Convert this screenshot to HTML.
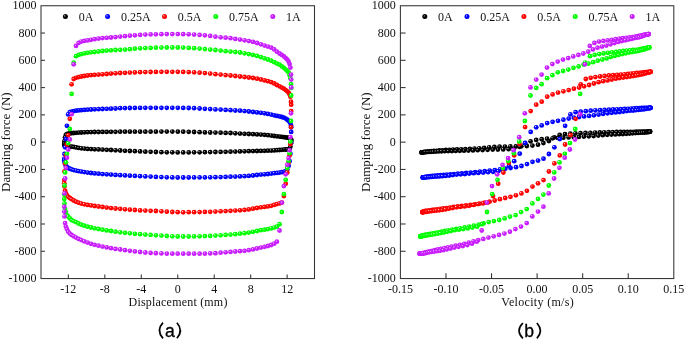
<!DOCTYPE html>
<html><head><meta charset="utf-8"><style>
html,body{margin:0;padding:0;background:#fff;}
body{width:685px;height:340px;overflow:hidden;}
svg{display:block;will-change:transform;}
.t{font-family:"Liberation Serif",serif;font-size:12px;fill:#111;}
.ty{font-family:"Liberation Serif",serif;font-size:13px;fill:#111;}
.lab{font-family:"Liberation Sans",sans-serif;font-size:17.6px;fill:#000;stroke:#000;stroke-width:0.3px;}
</style></head><body>
<svg width="685" height="340" viewBox="0 0 685 340">
<defs><radialGradient id="gk" cx="0.5" cy="0.5" r="0.5" fx="0.33" fy="0.32"><stop offset="0" stop-color="#d0d0d0"/><stop offset="0.4" stop-color="#000000"/><stop offset="1" stop-color="#000000"/></radialGradient><radialGradient id="gb" cx="0.5" cy="0.5" r="0.5" fx="0.33" fy="0.32"><stop offset="0" stop-color="#e0e0ff"/><stop offset="0.4" stop-color="#0000ff"/><stop offset="1" stop-color="#0000ff"/></radialGradient><radialGradient id="gr" cx="0.5" cy="0.5" r="0.5" fx="0.33" fy="0.32"><stop offset="0" stop-color="#ffe0e0"/><stop offset="0.4" stop-color="#ff0000"/><stop offset="1" stop-color="#ff0000"/></radialGradient><radialGradient id="gg" cx="0.5" cy="0.5" r="0.5" fx="0.33" fy="0.32"><stop offset="0" stop-color="#e8ffe8"/><stop offset="0.4" stop-color="#00ff00"/><stop offset="1" stop-color="#00ff00"/></radialGradient><radialGradient id="gm" cx="0.5" cy="0.5" r="0.5" fx="0.33" fy="0.32"><stop offset="0" stop-color="#f8e0ff"/><stop offset="0.4" stop-color="#c81eff"/><stop offset="1" stop-color="#c81eff"/></radialGradient></defs>
<rect width="685" height="340" fill="#fff"/>
<circle cx="177.8" cy="131.7" r="2.40" fill="url(#gk)"/><circle cx="172.3" cy="131.6" r="2.40" fill="url(#gk)"/><circle cx="166.8" cy="131.6" r="2.40" fill="url(#gk)"/><circle cx="161.4" cy="131.6" r="2.40" fill="url(#gk)"/><circle cx="155.9" cy="131.7" r="2.40" fill="url(#gk)"/><circle cx="150.6" cy="131.7" r="2.40" fill="url(#gk)"/><circle cx="145.3" cy="131.7" r="2.40" fill="url(#gk)"/><circle cx="140.1" cy="131.7" r="2.40" fill="url(#gk)"/><circle cx="134.9" cy="131.7" r="2.40" fill="url(#gk)"/><circle cx="129.9" cy="131.7" r="2.40" fill="url(#gk)"/><circle cx="125.0" cy="131.7" r="2.40" fill="url(#gk)"/><circle cx="120.2" cy="131.7" r="2.40" fill="url(#gk)"/><circle cx="115.5" cy="131.8" r="2.40" fill="url(#gk)"/><circle cx="111.0" cy="131.8" r="2.40" fill="url(#gk)"/><circle cx="106.7" cy="131.9" r="2.40" fill="url(#gk)"/><circle cx="102.5" cy="131.9" r="2.40" fill="url(#gk)"/><circle cx="98.5" cy="132.0" r="2.40" fill="url(#gk)"/><circle cx="94.6" cy="132.0" r="2.40" fill="url(#gk)"/><circle cx="91.0" cy="132.1" r="2.40" fill="url(#gk)"/><circle cx="87.6" cy="132.2" r="2.40" fill="url(#gk)"/><circle cx="84.3" cy="132.3" r="2.40" fill="url(#gk)"/><circle cx="81.3" cy="132.5" r="2.40" fill="url(#gk)"/><circle cx="78.6" cy="132.6" r="2.40" fill="url(#gk)"/><circle cx="76.0" cy="132.8" r="2.40" fill="url(#gk)"/><circle cx="73.7" cy="133.0" r="2.40" fill="url(#gk)"/><circle cx="71.6" cy="133.2" r="2.40" fill="url(#gk)"/><circle cx="69.8" cy="133.4" r="2.40" fill="url(#gk)"/><circle cx="68.2" cy="133.7" r="2.40" fill="url(#gk)"/><circle cx="66.9" cy="134.1" r="2.40" fill="url(#gk)"/><circle cx="65.9" cy="134.8" r="2.40" fill="url(#gk)"/><circle cx="65.1" cy="137.3" r="2.40" fill="url(#gk)"/><circle cx="64.5" cy="141.1" r="2.40" fill="url(#gk)"/><circle cx="64.3" cy="143.0" r="2.40" fill="url(#gk)"/><circle cx="64.3" cy="144.7" r="2.40" fill="url(#gk)"/><circle cx="64.5" cy="145.6" r="2.40" fill="url(#gk)"/><circle cx="65.1" cy="146.0" r="2.40" fill="url(#gk)"/><circle cx="65.9" cy="146.3" r="2.40" fill="url(#gk)"/><circle cx="66.9" cy="146.4" r="2.40" fill="url(#gk)"/><circle cx="68.2" cy="146.5" r="2.40" fill="url(#gk)"/><circle cx="69.8" cy="146.6" r="2.40" fill="url(#gk)"/><circle cx="71.6" cy="146.6" r="2.40" fill="url(#gk)"/><circle cx="73.7" cy="146.9" r="2.40" fill="url(#gk)"/><circle cx="76.0" cy="147.4" r="2.40" fill="url(#gk)"/><circle cx="78.6" cy="147.9" r="2.40" fill="url(#gk)"/><circle cx="81.3" cy="148.3" r="2.40" fill="url(#gk)"/><circle cx="84.3" cy="148.6" r="2.40" fill="url(#gk)"/><circle cx="87.6" cy="148.9" r="2.40" fill="url(#gk)"/><circle cx="91.0" cy="149.1" r="2.40" fill="url(#gk)"/><circle cx="94.6" cy="149.3" r="2.40" fill="url(#gk)"/><circle cx="98.5" cy="149.4" r="2.40" fill="url(#gk)"/><circle cx="102.5" cy="149.6" r="2.40" fill="url(#gk)"/><circle cx="106.7" cy="149.8" r="2.40" fill="url(#gk)"/><circle cx="111.0" cy="150.0" r="2.40" fill="url(#gk)"/><circle cx="115.5" cy="150.3" r="2.40" fill="url(#gk)"/><circle cx="120.2" cy="150.5" r="2.40" fill="url(#gk)"/><circle cx="125.0" cy="150.8" r="2.40" fill="url(#gk)"/><circle cx="129.9" cy="151.0" r="2.40" fill="url(#gk)"/><circle cx="134.9" cy="151.2" r="2.40" fill="url(#gk)"/><circle cx="140.1" cy="151.4" r="2.40" fill="url(#gk)"/><circle cx="145.3" cy="151.7" r="2.40" fill="url(#gk)"/><circle cx="150.6" cy="151.8" r="2.40" fill="url(#gk)"/><circle cx="155.9" cy="152.0" r="2.40" fill="url(#gk)"/><circle cx="161.4" cy="152.2" r="2.40" fill="url(#gk)"/><circle cx="166.8" cy="152.3" r="2.40" fill="url(#gk)"/><circle cx="172.3" cy="152.3" r="2.40" fill="url(#gk)"/><circle cx="177.7" cy="152.4" r="2.40" fill="url(#gk)"/><circle cx="183.2" cy="152.4" r="2.40" fill="url(#gk)"/><circle cx="188.7" cy="152.4" r="2.40" fill="url(#gk)"/><circle cx="194.1" cy="152.3" r="2.40" fill="url(#gk)"/><circle cx="199.6" cy="152.3" r="2.40" fill="url(#gk)"/><circle cx="204.9" cy="152.2" r="2.40" fill="url(#gk)"/><circle cx="210.2" cy="152.1" r="2.40" fill="url(#gk)"/><circle cx="215.4" cy="152.0" r="2.40" fill="url(#gk)"/><circle cx="220.6" cy="151.9" r="2.40" fill="url(#gk)"/><circle cx="225.6" cy="151.8" r="2.40" fill="url(#gk)"/><circle cx="230.5" cy="151.7" r="2.40" fill="url(#gk)"/><circle cx="235.3" cy="151.6" r="2.40" fill="url(#gk)"/><circle cx="240.0" cy="151.4" r="2.40" fill="url(#gk)"/><circle cx="244.5" cy="151.3" r="2.40" fill="url(#gk)"/><circle cx="248.8" cy="151.2" r="2.40" fill="url(#gk)"/><circle cx="253.0" cy="151.1" r="2.40" fill="url(#gk)"/><circle cx="257.0" cy="151.0" r="2.40" fill="url(#gk)"/><circle cx="260.9" cy="150.9" r="2.40" fill="url(#gk)"/><circle cx="264.5" cy="150.8" r="2.40" fill="url(#gk)"/><circle cx="267.9" cy="150.7" r="2.40" fill="url(#gk)"/><circle cx="271.2" cy="150.6" r="2.40" fill="url(#gk)"/><circle cx="274.2" cy="150.4" r="2.40" fill="url(#gk)"/><circle cx="276.9" cy="150.2" r="2.40" fill="url(#gk)"/><circle cx="279.5" cy="150.0" r="2.40" fill="url(#gk)"/><circle cx="281.8" cy="149.8" r="2.40" fill="url(#gk)"/><circle cx="283.9" cy="149.6" r="2.40" fill="url(#gk)"/><circle cx="285.7" cy="149.5" r="2.40" fill="url(#gk)"/><circle cx="287.3" cy="149.4" r="2.40" fill="url(#gk)"/><circle cx="288.6" cy="149.2" r="2.40" fill="url(#gk)"/><circle cx="289.6" cy="148.8" r="2.40" fill="url(#gk)"/><circle cx="290.4" cy="146.8" r="2.40" fill="url(#gk)"/><circle cx="291.0" cy="143.2" r="2.40" fill="url(#gk)"/><circle cx="291.2" cy="141.3" r="2.40" fill="url(#gk)"/><circle cx="291.2" cy="139.9" r="2.40" fill="url(#gk)"/><circle cx="291.0" cy="139.2" r="2.40" fill="url(#gk)"/><circle cx="290.4" cy="138.7" r="2.40" fill="url(#gk)"/><circle cx="289.6" cy="138.3" r="2.40" fill="url(#gk)"/><circle cx="288.6" cy="137.9" r="2.40" fill="url(#gk)"/><circle cx="287.3" cy="137.7" r="2.40" fill="url(#gk)"/><circle cx="285.7" cy="137.4" r="2.40" fill="url(#gk)"/><circle cx="283.9" cy="137.2" r="2.40" fill="url(#gk)"/><circle cx="281.8" cy="136.9" r="2.40" fill="url(#gk)"/><circle cx="279.5" cy="136.6" r="2.40" fill="url(#gk)"/><circle cx="276.9" cy="136.3" r="2.40" fill="url(#gk)"/><circle cx="274.2" cy="136.0" r="2.40" fill="url(#gk)"/><circle cx="271.2" cy="135.6" r="2.40" fill="url(#gk)"/><circle cx="267.9" cy="135.2" r="2.40" fill="url(#gk)"/><circle cx="264.5" cy="134.8" r="2.40" fill="url(#gk)"/><circle cx="260.9" cy="134.6" r="2.40" fill="url(#gk)"/><circle cx="257.0" cy="134.4" r="2.40" fill="url(#gk)"/><circle cx="253.0" cy="134.2" r="2.40" fill="url(#gk)"/><circle cx="248.8" cy="134.0" r="2.40" fill="url(#gk)"/><circle cx="244.5" cy="133.8" r="2.40" fill="url(#gk)"/><circle cx="240.0" cy="133.6" r="2.40" fill="url(#gk)"/><circle cx="235.3" cy="133.3" r="2.40" fill="url(#gk)"/><circle cx="230.5" cy="133.0" r="2.40" fill="url(#gk)"/><circle cx="225.6" cy="132.9" r="2.40" fill="url(#gk)"/><circle cx="220.6" cy="132.7" r="2.40" fill="url(#gk)"/><circle cx="215.4" cy="132.6" r="2.40" fill="url(#gk)"/><circle cx="210.2" cy="132.5" r="2.40" fill="url(#gk)"/><circle cx="204.9" cy="132.4" r="2.40" fill="url(#gk)"/><circle cx="199.6" cy="132.2" r="2.40" fill="url(#gk)"/><circle cx="194.1" cy="132.0" r="2.40" fill="url(#gk)"/><circle cx="188.7" cy="131.8" r="2.40" fill="url(#gk)"/><circle cx="183.2" cy="131.7" r="2.40" fill="url(#gk)"/>
<circle cx="177.8" cy="107.8" r="2.40" fill="url(#gb)"/><circle cx="172.3" cy="107.8" r="2.40" fill="url(#gb)"/><circle cx="166.8" cy="107.8" r="2.40" fill="url(#gb)"/><circle cx="161.4" cy="107.8" r="2.40" fill="url(#gb)"/><circle cx="155.9" cy="107.8" r="2.40" fill="url(#gb)"/><circle cx="150.6" cy="107.8" r="2.40" fill="url(#gb)"/><circle cx="145.3" cy="107.8" r="2.40" fill="url(#gb)"/><circle cx="140.1" cy="107.9" r="2.40" fill="url(#gb)"/><circle cx="134.9" cy="107.9" r="2.40" fill="url(#gb)"/><circle cx="129.9" cy="108.0" r="2.40" fill="url(#gb)"/><circle cx="125.0" cy="108.1" r="2.40" fill="url(#gb)"/><circle cx="120.2" cy="108.2" r="2.40" fill="url(#gb)"/><circle cx="115.5" cy="108.5" r="2.40" fill="url(#gb)"/><circle cx="111.0" cy="108.7" r="2.40" fill="url(#gb)"/><circle cx="106.7" cy="108.8" r="2.40" fill="url(#gb)"/><circle cx="102.5" cy="109.0" r="2.40" fill="url(#gb)"/><circle cx="98.5" cy="109.2" r="2.40" fill="url(#gb)"/><circle cx="94.6" cy="109.3" r="2.40" fill="url(#gb)"/><circle cx="91.0" cy="109.5" r="2.40" fill="url(#gb)"/><circle cx="87.6" cy="109.7" r="2.40" fill="url(#gb)"/><circle cx="84.3" cy="109.9" r="2.40" fill="url(#gb)"/><circle cx="81.3" cy="110.2" r="2.40" fill="url(#gb)"/><circle cx="78.6" cy="110.4" r="2.40" fill="url(#gb)"/><circle cx="76.0" cy="110.7" r="2.40" fill="url(#gb)"/><circle cx="73.7" cy="111.2" r="2.40" fill="url(#gb)"/><circle cx="71.6" cy="111.7" r="2.40" fill="url(#gb)"/><circle cx="69.8" cy="112.2" r="2.40" fill="url(#gb)"/><circle cx="68.2" cy="114.4" r="2.40" fill="url(#gb)"/><circle cx="66.9" cy="125.8" r="2.40" fill="url(#gb)"/><circle cx="65.9" cy="139.0" r="2.40" fill="url(#gb)"/><circle cx="65.1" cy="147.3" r="2.40" fill="url(#gb)"/><circle cx="64.5" cy="154.0" r="2.40" fill="url(#gb)"/><circle cx="64.3" cy="158.7" r="2.40" fill="url(#gb)"/><circle cx="64.3" cy="160.6" r="2.40" fill="url(#gb)"/><circle cx="64.5" cy="161.8" r="2.40" fill="url(#gb)"/><circle cx="65.1" cy="164.1" r="2.40" fill="url(#gb)"/><circle cx="65.9" cy="166.0" r="2.40" fill="url(#gb)"/><circle cx="66.9" cy="167.2" r="2.40" fill="url(#gb)"/><circle cx="68.2" cy="168.0" r="2.40" fill="url(#gb)"/><circle cx="69.8" cy="168.7" r="2.40" fill="url(#gb)"/><circle cx="71.6" cy="169.4" r="2.40" fill="url(#gb)"/><circle cx="73.7" cy="170.1" r="2.40" fill="url(#gb)"/><circle cx="76.0" cy="170.6" r="2.40" fill="url(#gb)"/><circle cx="78.6" cy="171.2" r="2.40" fill="url(#gb)"/><circle cx="81.3" cy="171.6" r="2.40" fill="url(#gb)"/><circle cx="84.3" cy="172.1" r="2.40" fill="url(#gb)"/><circle cx="87.6" cy="172.6" r="2.40" fill="url(#gb)"/><circle cx="91.0" cy="173.0" r="2.40" fill="url(#gb)"/><circle cx="94.6" cy="173.4" r="2.40" fill="url(#gb)"/><circle cx="98.5" cy="173.7" r="2.40" fill="url(#gb)"/><circle cx="102.5" cy="174.1" r="2.40" fill="url(#gb)"/><circle cx="106.7" cy="174.3" r="2.40" fill="url(#gb)"/><circle cx="111.0" cy="174.6" r="2.40" fill="url(#gb)"/><circle cx="115.5" cy="174.9" r="2.40" fill="url(#gb)"/><circle cx="120.2" cy="175.2" r="2.40" fill="url(#gb)"/><circle cx="125.0" cy="175.4" r="2.40" fill="url(#gb)"/><circle cx="129.9" cy="175.7" r="2.40" fill="url(#gb)"/><circle cx="134.9" cy="175.9" r="2.40" fill="url(#gb)"/><circle cx="140.1" cy="176.2" r="2.40" fill="url(#gb)"/><circle cx="145.3" cy="176.4" r="2.40" fill="url(#gb)"/><circle cx="150.6" cy="176.6" r="2.40" fill="url(#gb)"/><circle cx="155.9" cy="176.9" r="2.40" fill="url(#gb)"/><circle cx="161.4" cy="177.1" r="2.40" fill="url(#gb)"/><circle cx="166.8" cy="177.3" r="2.40" fill="url(#gb)"/><circle cx="172.3" cy="177.4" r="2.40" fill="url(#gb)"/><circle cx="177.7" cy="177.5" r="2.40" fill="url(#gb)"/><circle cx="183.2" cy="177.5" r="2.40" fill="url(#gb)"/><circle cx="188.7" cy="177.5" r="2.40" fill="url(#gb)"/><circle cx="194.1" cy="177.4" r="2.40" fill="url(#gb)"/><circle cx="199.6" cy="177.4" r="2.40" fill="url(#gb)"/><circle cx="204.9" cy="177.4" r="2.40" fill="url(#gb)"/><circle cx="210.2" cy="177.3" r="2.40" fill="url(#gb)"/><circle cx="215.4" cy="177.2" r="2.40" fill="url(#gb)"/><circle cx="220.6" cy="177.1" r="2.40" fill="url(#gb)"/><circle cx="225.6" cy="176.9" r="2.40" fill="url(#gb)"/><circle cx="230.5" cy="176.7" r="2.40" fill="url(#gb)"/><circle cx="235.3" cy="176.6" r="2.40" fill="url(#gb)"/><circle cx="240.0" cy="176.4" r="2.40" fill="url(#gb)"/><circle cx="244.5" cy="176.2" r="2.40" fill="url(#gb)"/><circle cx="248.8" cy="175.9" r="2.40" fill="url(#gb)"/><circle cx="253.0" cy="175.5" r="2.40" fill="url(#gb)"/><circle cx="257.0" cy="175.0" r="2.40" fill="url(#gb)"/><circle cx="260.9" cy="174.6" r="2.40" fill="url(#gb)"/><circle cx="264.5" cy="174.3" r="2.40" fill="url(#gb)"/><circle cx="267.9" cy="174.0" r="2.40" fill="url(#gb)"/><circle cx="271.2" cy="173.6" r="2.40" fill="url(#gb)"/><circle cx="274.2" cy="173.2" r="2.40" fill="url(#gb)"/><circle cx="276.9" cy="172.9" r="2.40" fill="url(#gb)"/><circle cx="279.5" cy="172.6" r="2.40" fill="url(#gb)"/><circle cx="281.8" cy="172.2" r="2.40" fill="url(#gb)"/><circle cx="283.9" cy="171.8" r="2.40" fill="url(#gb)"/><circle cx="285.7" cy="171.2" r="2.40" fill="url(#gb)"/><circle cx="287.3" cy="169.3" r="2.40" fill="url(#gb)"/><circle cx="288.6" cy="165.9" r="2.40" fill="url(#gb)"/><circle cx="289.6" cy="161.2" r="2.40" fill="url(#gb)"/><circle cx="290.4" cy="153.7" r="2.40" fill="url(#gb)"/><circle cx="291.0" cy="142.9" r="2.40" fill="url(#gb)"/><circle cx="291.2" cy="131.9" r="2.40" fill="url(#gb)"/><circle cx="291.2" cy="127.3" r="2.40" fill="url(#gb)"/><circle cx="291.0" cy="125.4" r="2.40" fill="url(#gb)"/><circle cx="290.4" cy="123.1" r="2.40" fill="url(#gb)"/><circle cx="289.6" cy="121.8" r="2.40" fill="url(#gb)"/><circle cx="288.6" cy="120.8" r="2.40" fill="url(#gb)"/><circle cx="287.3" cy="119.7" r="2.40" fill="url(#gb)"/><circle cx="285.7" cy="118.6" r="2.40" fill="url(#gb)"/><circle cx="283.9" cy="117.7" r="2.40" fill="url(#gb)"/><circle cx="281.8" cy="117.0" r="2.40" fill="url(#gb)"/><circle cx="279.5" cy="116.4" r="2.40" fill="url(#gb)"/><circle cx="276.9" cy="115.9" r="2.40" fill="url(#gb)"/><circle cx="274.2" cy="115.3" r="2.40" fill="url(#gb)"/><circle cx="271.2" cy="114.6" r="2.40" fill="url(#gb)"/><circle cx="267.9" cy="113.9" r="2.40" fill="url(#gb)"/><circle cx="264.5" cy="113.3" r="2.40" fill="url(#gb)"/><circle cx="260.9" cy="112.8" r="2.40" fill="url(#gb)"/><circle cx="257.0" cy="112.4" r="2.40" fill="url(#gb)"/><circle cx="253.0" cy="112.0" r="2.40" fill="url(#gb)"/><circle cx="248.8" cy="111.5" r="2.40" fill="url(#gb)"/><circle cx="244.5" cy="111.1" r="2.40" fill="url(#gb)"/><circle cx="240.0" cy="110.7" r="2.40" fill="url(#gb)"/><circle cx="235.3" cy="110.5" r="2.40" fill="url(#gb)"/><circle cx="230.5" cy="110.2" r="2.40" fill="url(#gb)"/><circle cx="225.6" cy="109.9" r="2.40" fill="url(#gb)"/><circle cx="220.6" cy="109.6" r="2.40" fill="url(#gb)"/><circle cx="215.4" cy="109.4" r="2.40" fill="url(#gb)"/><circle cx="210.2" cy="109.1" r="2.40" fill="url(#gb)"/><circle cx="204.9" cy="108.8" r="2.40" fill="url(#gb)"/><circle cx="199.6" cy="108.5" r="2.40" fill="url(#gb)"/><circle cx="194.1" cy="108.2" r="2.40" fill="url(#gb)"/><circle cx="188.7" cy="108.0" r="2.40" fill="url(#gb)"/><circle cx="183.2" cy="107.9" r="2.40" fill="url(#gb)"/>
<circle cx="177.8" cy="71.8" r="2.40" fill="url(#gr)"/><circle cx="172.3" cy="71.8" r="2.40" fill="url(#gr)"/><circle cx="166.8" cy="71.8" r="2.40" fill="url(#gr)"/><circle cx="161.4" cy="71.8" r="2.40" fill="url(#gr)"/><circle cx="155.9" cy="71.9" r="2.40" fill="url(#gr)"/><circle cx="150.6" cy="72.0" r="2.40" fill="url(#gr)"/><circle cx="145.3" cy="72.1" r="2.40" fill="url(#gr)"/><circle cx="140.1" cy="72.2" r="2.40" fill="url(#gr)"/><circle cx="134.9" cy="72.4" r="2.40" fill="url(#gr)"/><circle cx="129.9" cy="72.6" r="2.40" fill="url(#gr)"/><circle cx="125.0" cy="72.8" r="2.40" fill="url(#gr)"/><circle cx="120.2" cy="73.0" r="2.40" fill="url(#gr)"/><circle cx="115.5" cy="73.3" r="2.40" fill="url(#gr)"/><circle cx="111.0" cy="73.6" r="2.40" fill="url(#gr)"/><circle cx="106.7" cy="74.0" r="2.40" fill="url(#gr)"/><circle cx="102.5" cy="74.3" r="2.40" fill="url(#gr)"/><circle cx="98.5" cy="74.6" r="2.40" fill="url(#gr)"/><circle cx="94.6" cy="74.8" r="2.40" fill="url(#gr)"/><circle cx="91.0" cy="75.1" r="2.40" fill="url(#gr)"/><circle cx="87.6" cy="75.5" r="2.40" fill="url(#gr)"/><circle cx="84.3" cy="76.0" r="2.40" fill="url(#gr)"/><circle cx="81.3" cy="76.5" r="2.40" fill="url(#gr)"/><circle cx="78.6" cy="77.1" r="2.40" fill="url(#gr)"/><circle cx="76.0" cy="77.8" r="2.40" fill="url(#gr)"/><circle cx="73.7" cy="79.0" r="2.40" fill="url(#gr)"/><circle cx="71.6" cy="84.3" r="2.40" fill="url(#gr)"/><circle cx="69.8" cy="118.8" r="2.40" fill="url(#gr)"/><circle cx="68.2" cy="135.1" r="2.40" fill="url(#gr)"/><circle cx="66.9" cy="144.5" r="2.40" fill="url(#gr)"/><circle cx="65.9" cy="155.4" r="2.40" fill="url(#gr)"/><circle cx="65.1" cy="163.4" r="2.40" fill="url(#gr)"/><circle cx="64.5" cy="171.5" r="2.40" fill="url(#gr)"/><circle cx="64.3" cy="180.1" r="2.40" fill="url(#gr)"/><circle cx="64.3" cy="183.3" r="2.40" fill="url(#gr)"/><circle cx="64.5" cy="186.6" r="2.40" fill="url(#gr)"/><circle cx="65.1" cy="190.8" r="2.40" fill="url(#gr)"/><circle cx="65.9" cy="193.4" r="2.40" fill="url(#gr)"/><circle cx="66.9" cy="195.3" r="2.40" fill="url(#gr)"/><circle cx="68.2" cy="196.8" r="2.40" fill="url(#gr)"/><circle cx="69.8" cy="198.0" r="2.40" fill="url(#gr)"/><circle cx="71.6" cy="199.2" r="2.40" fill="url(#gr)"/><circle cx="73.7" cy="200.5" r="2.40" fill="url(#gr)"/><circle cx="76.0" cy="201.7" r="2.40" fill="url(#gr)"/><circle cx="78.6" cy="202.7" r="2.40" fill="url(#gr)"/><circle cx="81.3" cy="203.6" r="2.40" fill="url(#gr)"/><circle cx="84.3" cy="204.3" r="2.40" fill="url(#gr)"/><circle cx="87.6" cy="204.9" r="2.40" fill="url(#gr)"/><circle cx="91.0" cy="205.4" r="2.40" fill="url(#gr)"/><circle cx="94.6" cy="206.0" r="2.40" fill="url(#gr)"/><circle cx="98.5" cy="206.5" r="2.40" fill="url(#gr)"/><circle cx="102.5" cy="207.0" r="2.40" fill="url(#gr)"/><circle cx="106.7" cy="207.6" r="2.40" fill="url(#gr)"/><circle cx="111.0" cy="208.1" r="2.40" fill="url(#gr)"/><circle cx="115.5" cy="208.5" r="2.40" fill="url(#gr)"/><circle cx="120.2" cy="208.8" r="2.40" fill="url(#gr)"/><circle cx="125.0" cy="209.3" r="2.40" fill="url(#gr)"/><circle cx="129.9" cy="209.7" r="2.40" fill="url(#gr)"/><circle cx="134.9" cy="210.0" r="2.40" fill="url(#gr)"/><circle cx="140.1" cy="210.4" r="2.40" fill="url(#gr)"/><circle cx="145.3" cy="210.6" r="2.40" fill="url(#gr)"/><circle cx="150.6" cy="210.8" r="2.40" fill="url(#gr)"/><circle cx="155.9" cy="211.0" r="2.40" fill="url(#gr)"/><circle cx="161.4" cy="211.3" r="2.40" fill="url(#gr)"/><circle cx="166.8" cy="211.7" r="2.40" fill="url(#gr)"/><circle cx="172.3" cy="212.0" r="2.40" fill="url(#gr)"/><circle cx="177.7" cy="212.2" r="2.40" fill="url(#gr)"/><circle cx="183.2" cy="212.3" r="2.40" fill="url(#gr)"/><circle cx="188.7" cy="212.2" r="2.40" fill="url(#gr)"/><circle cx="194.1" cy="212.2" r="2.40" fill="url(#gr)"/><circle cx="199.6" cy="212.1" r="2.40" fill="url(#gr)"/><circle cx="204.9" cy="211.9" r="2.40" fill="url(#gr)"/><circle cx="210.2" cy="211.8" r="2.40" fill="url(#gr)"/><circle cx="215.4" cy="211.6" r="2.40" fill="url(#gr)"/><circle cx="220.6" cy="211.3" r="2.40" fill="url(#gr)"/><circle cx="225.6" cy="211.1" r="2.40" fill="url(#gr)"/><circle cx="230.5" cy="210.8" r="2.40" fill="url(#gr)"/><circle cx="235.3" cy="210.6" r="2.40" fill="url(#gr)"/><circle cx="240.0" cy="210.3" r="2.40" fill="url(#gr)"/><circle cx="244.5" cy="209.9" r="2.40" fill="url(#gr)"/><circle cx="248.8" cy="209.4" r="2.40" fill="url(#gr)"/><circle cx="253.0" cy="208.7" r="2.40" fill="url(#gr)"/><circle cx="257.0" cy="208.0" r="2.40" fill="url(#gr)"/><circle cx="260.9" cy="207.3" r="2.40" fill="url(#gr)"/><circle cx="264.5" cy="206.9" r="2.40" fill="url(#gr)"/><circle cx="267.9" cy="206.4" r="2.40" fill="url(#gr)"/><circle cx="271.2" cy="205.8" r="2.40" fill="url(#gr)"/><circle cx="274.2" cy="204.9" r="2.40" fill="url(#gr)"/><circle cx="276.9" cy="204.1" r="2.40" fill="url(#gr)"/><circle cx="279.5" cy="203.4" r="2.40" fill="url(#gr)"/><circle cx="281.8" cy="202.6" r="2.40" fill="url(#gr)"/><circle cx="283.9" cy="196.1" r="2.40" fill="url(#gr)"/><circle cx="285.7" cy="183.7" r="2.40" fill="url(#gr)"/><circle cx="287.3" cy="172.5" r="2.40" fill="url(#gr)"/><circle cx="288.6" cy="162.8" r="2.40" fill="url(#gr)"/><circle cx="289.6" cy="155.4" r="2.40" fill="url(#gr)"/><circle cx="290.4" cy="144.1" r="2.40" fill="url(#gr)"/><circle cx="291.0" cy="127.1" r="2.40" fill="url(#gr)"/><circle cx="291.2" cy="111.1" r="2.40" fill="url(#gr)"/><circle cx="291.2" cy="104.7" r="2.40" fill="url(#gr)"/><circle cx="291.0" cy="101.7" r="2.40" fill="url(#gr)"/><circle cx="290.4" cy="96.7" r="2.40" fill="url(#gr)"/><circle cx="289.6" cy="94.4" r="2.40" fill="url(#gr)"/><circle cx="288.6" cy="92.6" r="2.40" fill="url(#gr)"/><circle cx="287.3" cy="91.3" r="2.40" fill="url(#gr)"/><circle cx="285.7" cy="90.1" r="2.40" fill="url(#gr)"/><circle cx="283.9" cy="88.7" r="2.40" fill="url(#gr)"/><circle cx="281.8" cy="87.6" r="2.40" fill="url(#gr)"/><circle cx="279.5" cy="86.3" r="2.40" fill="url(#gr)"/><circle cx="276.9" cy="85.0" r="2.40" fill="url(#gr)"/><circle cx="274.2" cy="83.5" r="2.40" fill="url(#gr)"/><circle cx="271.2" cy="82.2" r="2.40" fill="url(#gr)"/><circle cx="267.9" cy="81.2" r="2.40" fill="url(#gr)"/><circle cx="264.5" cy="80.4" r="2.40" fill="url(#gr)"/><circle cx="260.9" cy="79.5" r="2.40" fill="url(#gr)"/><circle cx="257.0" cy="78.7" r="2.40" fill="url(#gr)"/><circle cx="253.0" cy="78.0" r="2.40" fill="url(#gr)"/><circle cx="248.8" cy="77.5" r="2.40" fill="url(#gr)"/><circle cx="244.5" cy="77.0" r="2.40" fill="url(#gr)"/><circle cx="240.0" cy="76.5" r="2.40" fill="url(#gr)"/><circle cx="235.3" cy="76.0" r="2.40" fill="url(#gr)"/><circle cx="230.5" cy="75.5" r="2.40" fill="url(#gr)"/><circle cx="225.6" cy="75.1" r="2.40" fill="url(#gr)"/><circle cx="220.6" cy="74.6" r="2.40" fill="url(#gr)"/><circle cx="215.4" cy="74.2" r="2.40" fill="url(#gr)"/><circle cx="210.2" cy="73.6" r="2.40" fill="url(#gr)"/><circle cx="204.9" cy="73.1" r="2.40" fill="url(#gr)"/><circle cx="199.6" cy="72.7" r="2.40" fill="url(#gr)"/><circle cx="194.1" cy="72.3" r="2.40" fill="url(#gr)"/><circle cx="188.7" cy="72.1" r="2.40" fill="url(#gr)"/><circle cx="183.2" cy="71.9" r="2.40" fill="url(#gr)"/>
<circle cx="177.8" cy="47.5" r="2.40" fill="url(#gg)"/><circle cx="172.3" cy="47.5" r="2.40" fill="url(#gg)"/><circle cx="166.8" cy="47.5" r="2.40" fill="url(#gg)"/><circle cx="161.4" cy="47.6" r="2.40" fill="url(#gg)"/><circle cx="155.9" cy="47.7" r="2.40" fill="url(#gg)"/><circle cx="150.6" cy="47.9" r="2.40" fill="url(#gg)"/><circle cx="145.3" cy="48.1" r="2.40" fill="url(#gg)"/><circle cx="140.1" cy="48.3" r="2.40" fill="url(#gg)"/><circle cx="134.9" cy="48.7" r="2.40" fill="url(#gg)"/><circle cx="129.9" cy="49.2" r="2.40" fill="url(#gg)"/><circle cx="125.0" cy="49.6" r="2.40" fill="url(#gg)"/><circle cx="120.2" cy="49.8" r="2.40" fill="url(#gg)"/><circle cx="115.5" cy="50.0" r="2.40" fill="url(#gg)"/><circle cx="111.0" cy="50.3" r="2.40" fill="url(#gg)"/><circle cx="106.7" cy="50.6" r="2.40" fill="url(#gg)"/><circle cx="102.5" cy="51.0" r="2.40" fill="url(#gg)"/><circle cx="98.5" cy="51.5" r="2.40" fill="url(#gg)"/><circle cx="94.6" cy="52.0" r="2.40" fill="url(#gg)"/><circle cx="91.0" cy="52.3" r="2.40" fill="url(#gg)"/><circle cx="87.6" cy="52.8" r="2.40" fill="url(#gg)"/><circle cx="84.3" cy="53.4" r="2.40" fill="url(#gg)"/><circle cx="81.3" cy="54.1" r="2.40" fill="url(#gg)"/><circle cx="78.6" cy="54.9" r="2.40" fill="url(#gg)"/><circle cx="76.0" cy="56.2" r="2.40" fill="url(#gg)"/><circle cx="73.7" cy="62.6" r="2.40" fill="url(#gg)"/><circle cx="71.6" cy="93.9" r="2.40" fill="url(#gg)"/><circle cx="69.8" cy="129.0" r="2.40" fill="url(#gg)"/><circle cx="68.2" cy="143.1" r="2.40" fill="url(#gg)"/><circle cx="66.9" cy="153.8" r="2.40" fill="url(#gg)"/><circle cx="65.9" cy="162.3" r="2.40" fill="url(#gg)"/><circle cx="65.1" cy="172.4" r="2.40" fill="url(#gg)"/><circle cx="64.5" cy="185.5" r="2.40" fill="url(#gg)"/><circle cx="64.3" cy="194.6" r="2.40" fill="url(#gg)"/><circle cx="64.3" cy="198.9" r="2.40" fill="url(#gg)"/><circle cx="64.5" cy="203.4" r="2.40" fill="url(#gg)"/><circle cx="65.1" cy="209.1" r="2.40" fill="url(#gg)"/><circle cx="65.9" cy="212.1" r="2.40" fill="url(#gg)"/><circle cx="66.9" cy="215.1" r="2.40" fill="url(#gg)"/><circle cx="68.2" cy="216.6" r="2.40" fill="url(#gg)"/><circle cx="69.8" cy="218.4" r="2.40" fill="url(#gg)"/><circle cx="71.6" cy="220.0" r="2.40" fill="url(#gg)"/><circle cx="73.7" cy="221.1" r="2.40" fill="url(#gg)"/><circle cx="76.0" cy="222.1" r="2.40" fill="url(#gg)"/><circle cx="78.6" cy="223.5" r="2.40" fill="url(#gg)"/><circle cx="81.3" cy="224.7" r="2.40" fill="url(#gg)"/><circle cx="84.3" cy="225.7" r="2.40" fill="url(#gg)"/><circle cx="87.6" cy="226.7" r="2.40" fill="url(#gg)"/><circle cx="91.0" cy="227.5" r="2.40" fill="url(#gg)"/><circle cx="94.6" cy="228.3" r="2.40" fill="url(#gg)"/><circle cx="98.5" cy="229.0" r="2.40" fill="url(#gg)"/><circle cx="102.5" cy="229.7" r="2.40" fill="url(#gg)"/><circle cx="106.7" cy="230.4" r="2.40" fill="url(#gg)"/><circle cx="111.0" cy="231.0" r="2.40" fill="url(#gg)"/><circle cx="115.5" cy="231.7" r="2.40" fill="url(#gg)"/><circle cx="120.2" cy="232.3" r="2.40" fill="url(#gg)"/><circle cx="125.0" cy="232.8" r="2.40" fill="url(#gg)"/><circle cx="129.9" cy="233.3" r="2.40" fill="url(#gg)"/><circle cx="134.9" cy="233.8" r="2.40" fill="url(#gg)"/><circle cx="140.1" cy="234.2" r="2.40" fill="url(#gg)"/><circle cx="145.3" cy="234.6" r="2.40" fill="url(#gg)"/><circle cx="150.6" cy="234.9" r="2.40" fill="url(#gg)"/><circle cx="155.9" cy="235.3" r="2.40" fill="url(#gg)"/><circle cx="161.4" cy="235.6" r="2.40" fill="url(#gg)"/><circle cx="166.8" cy="236.0" r="2.40" fill="url(#gg)"/><circle cx="172.3" cy="236.3" r="2.40" fill="url(#gg)"/><circle cx="177.7" cy="236.5" r="2.40" fill="url(#gg)"/><circle cx="183.2" cy="236.5" r="2.40" fill="url(#gg)"/><circle cx="188.7" cy="236.5" r="2.40" fill="url(#gg)"/><circle cx="194.1" cy="236.4" r="2.40" fill="url(#gg)"/><circle cx="199.6" cy="236.3" r="2.40" fill="url(#gg)"/><circle cx="204.9" cy="236.1" r="2.40" fill="url(#gg)"/><circle cx="210.2" cy="235.9" r="2.40" fill="url(#gg)"/><circle cx="215.4" cy="235.6" r="2.40" fill="url(#gg)"/><circle cx="220.6" cy="235.3" r="2.40" fill="url(#gg)"/><circle cx="225.6" cy="234.9" r="2.40" fill="url(#gg)"/><circle cx="230.5" cy="234.6" r="2.40" fill="url(#gg)"/><circle cx="235.3" cy="234.2" r="2.40" fill="url(#gg)"/><circle cx="240.0" cy="233.7" r="2.40" fill="url(#gg)"/><circle cx="244.5" cy="233.2" r="2.40" fill="url(#gg)"/><circle cx="248.8" cy="232.6" r="2.40" fill="url(#gg)"/><circle cx="253.0" cy="231.8" r="2.40" fill="url(#gg)"/><circle cx="257.0" cy="231.0" r="2.40" fill="url(#gg)"/><circle cx="260.9" cy="230.2" r="2.40" fill="url(#gg)"/><circle cx="264.5" cy="229.7" r="2.40" fill="url(#gg)"/><circle cx="267.9" cy="229.1" r="2.40" fill="url(#gg)"/><circle cx="271.2" cy="228.4" r="2.40" fill="url(#gg)"/><circle cx="274.2" cy="227.6" r="2.40" fill="url(#gg)"/><circle cx="276.9" cy="226.7" r="2.40" fill="url(#gg)"/><circle cx="279.5" cy="224.2" r="2.40" fill="url(#gg)"/><circle cx="281.8" cy="212.0" r="2.40" fill="url(#gg)"/><circle cx="283.9" cy="194.1" r="2.40" fill="url(#gg)"/><circle cx="285.7" cy="179.8" r="2.40" fill="url(#gg)"/><circle cx="287.3" cy="168.0" r="2.40" fill="url(#gg)"/><circle cx="288.6" cy="160.9" r="2.40" fill="url(#gg)"/><circle cx="289.6" cy="153.2" r="2.40" fill="url(#gg)"/><circle cx="290.4" cy="141.4" r="2.40" fill="url(#gg)"/><circle cx="291.0" cy="121.0" r="2.40" fill="url(#gg)"/><circle cx="291.2" cy="95.5" r="2.40" fill="url(#gg)"/><circle cx="291.2" cy="87.9" r="2.40" fill="url(#gg)"/><circle cx="291.0" cy="84.2" r="2.40" fill="url(#gg)"/><circle cx="290.4" cy="78.2" r="2.40" fill="url(#gg)"/><circle cx="289.6" cy="75.2" r="2.40" fill="url(#gg)"/><circle cx="288.6" cy="72.3" r="2.40" fill="url(#gg)"/><circle cx="287.3" cy="71.0" r="2.40" fill="url(#gg)"/><circle cx="285.7" cy="69.6" r="2.40" fill="url(#gg)"/><circle cx="283.9" cy="67.8" r="2.40" fill="url(#gg)"/><circle cx="281.8" cy="66.4" r="2.40" fill="url(#gg)"/><circle cx="279.5" cy="64.6" r="2.40" fill="url(#gg)"/><circle cx="276.9" cy="63.6" r="2.40" fill="url(#gg)"/><circle cx="274.2" cy="62.2" r="2.40" fill="url(#gg)"/><circle cx="271.2" cy="60.7" r="2.40" fill="url(#gg)"/><circle cx="267.9" cy="59.5" r="2.40" fill="url(#gg)"/><circle cx="264.5" cy="58.4" r="2.40" fill="url(#gg)"/><circle cx="260.9" cy="57.1" r="2.40" fill="url(#gg)"/><circle cx="257.0" cy="55.9" r="2.40" fill="url(#gg)"/><circle cx="253.0" cy="54.9" r="2.40" fill="url(#gg)"/><circle cx="248.8" cy="54.1" r="2.40" fill="url(#gg)"/><circle cx="244.5" cy="53.3" r="2.40" fill="url(#gg)"/><circle cx="240.0" cy="52.5" r="2.40" fill="url(#gg)"/><circle cx="235.3" cy="52.0" r="2.40" fill="url(#gg)"/><circle cx="230.5" cy="51.6" r="2.40" fill="url(#gg)"/><circle cx="225.6" cy="51.2" r="2.40" fill="url(#gg)"/><circle cx="220.6" cy="50.6" r="2.40" fill="url(#gg)"/><circle cx="215.4" cy="50.0" r="2.40" fill="url(#gg)"/><circle cx="210.2" cy="49.6" r="2.40" fill="url(#gg)"/><circle cx="204.9" cy="49.1" r="2.40" fill="url(#gg)"/><circle cx="199.6" cy="48.6" r="2.40" fill="url(#gg)"/><circle cx="194.1" cy="48.2" r="2.40" fill="url(#gg)"/><circle cx="188.7" cy="47.9" r="2.40" fill="url(#gg)"/><circle cx="183.2" cy="47.6" r="2.40" fill="url(#gg)"/>
<circle cx="177.8" cy="34.1" r="2.40" fill="url(#gm)"/><circle cx="172.3" cy="34.1" r="2.40" fill="url(#gm)"/><circle cx="166.8" cy="34.1" r="2.40" fill="url(#gm)"/><circle cx="161.4" cy="34.2" r="2.40" fill="url(#gm)"/><circle cx="155.9" cy="34.3" r="2.40" fill="url(#gm)"/><circle cx="150.6" cy="34.4" r="2.40" fill="url(#gm)"/><circle cx="145.3" cy="34.6" r="2.40" fill="url(#gm)"/><circle cx="140.1" cy="34.9" r="2.40" fill="url(#gm)"/><circle cx="134.9" cy="35.3" r="2.40" fill="url(#gm)"/><circle cx="129.9" cy="35.7" r="2.40" fill="url(#gm)"/><circle cx="125.0" cy="36.2" r="2.40" fill="url(#gm)"/><circle cx="120.2" cy="36.6" r="2.40" fill="url(#gm)"/><circle cx="115.5" cy="37.1" r="2.40" fill="url(#gm)"/><circle cx="111.0" cy="37.5" r="2.40" fill="url(#gm)"/><circle cx="106.7" cy="37.8" r="2.40" fill="url(#gm)"/><circle cx="102.5" cy="38.1" r="2.40" fill="url(#gm)"/><circle cx="98.5" cy="38.6" r="2.40" fill="url(#gm)"/><circle cx="94.6" cy="39.2" r="2.40" fill="url(#gm)"/><circle cx="91.0" cy="39.8" r="2.40" fill="url(#gm)"/><circle cx="87.6" cy="40.4" r="2.40" fill="url(#gm)"/><circle cx="84.3" cy="40.9" r="2.40" fill="url(#gm)"/><circle cx="81.3" cy="41.6" r="2.40" fill="url(#gm)"/><circle cx="78.6" cy="42.9" r="2.40" fill="url(#gm)"/><circle cx="76.0" cy="45.9" r="2.40" fill="url(#gm)"/><circle cx="73.7" cy="64.3" r="2.40" fill="url(#gm)"/><circle cx="71.6" cy="114.2" r="2.40" fill="url(#gm)"/><circle cx="69.8" cy="139.5" r="2.40" fill="url(#gm)"/><circle cx="68.2" cy="149.5" r="2.40" fill="url(#gm)"/><circle cx="66.9" cy="157.7" r="2.40" fill="url(#gm)"/><circle cx="65.9" cy="167.8" r="2.40" fill="url(#gm)"/><circle cx="65.1" cy="178.5" r="2.40" fill="url(#gm)"/><circle cx="64.5" cy="193.4" r="2.40" fill="url(#gm)"/><circle cx="64.3" cy="206.7" r="2.40" fill="url(#gm)"/><circle cx="64.3" cy="211.6" r="2.40" fill="url(#gm)"/><circle cx="64.5" cy="216.4" r="2.40" fill="url(#gm)"/><circle cx="65.1" cy="223.1" r="2.40" fill="url(#gm)"/><circle cx="65.9" cy="226.6" r="2.40" fill="url(#gm)"/><circle cx="66.9" cy="229.1" r="2.40" fill="url(#gm)"/><circle cx="68.2" cy="231.7" r="2.40" fill="url(#gm)"/><circle cx="69.8" cy="233.6" r="2.40" fill="url(#gm)"/><circle cx="71.6" cy="234.9" r="2.40" fill="url(#gm)"/><circle cx="73.7" cy="236.3" r="2.40" fill="url(#gm)"/><circle cx="76.0" cy="237.6" r="2.40" fill="url(#gm)"/><circle cx="78.6" cy="238.9" r="2.40" fill="url(#gm)"/><circle cx="81.3" cy="240.1" r="2.40" fill="url(#gm)"/><circle cx="84.3" cy="241.4" r="2.40" fill="url(#gm)"/><circle cx="87.6" cy="242.6" r="2.40" fill="url(#gm)"/><circle cx="91.0" cy="243.8" r="2.40" fill="url(#gm)"/><circle cx="94.6" cy="244.8" r="2.40" fill="url(#gm)"/><circle cx="98.5" cy="245.7" r="2.40" fill="url(#gm)"/><circle cx="102.5" cy="246.6" r="2.40" fill="url(#gm)"/><circle cx="106.7" cy="247.4" r="2.40" fill="url(#gm)"/><circle cx="111.0" cy="248.2" r="2.40" fill="url(#gm)"/><circle cx="115.5" cy="248.9" r="2.40" fill="url(#gm)"/><circle cx="120.2" cy="249.5" r="2.40" fill="url(#gm)"/><circle cx="125.0" cy="250.2" r="2.40" fill="url(#gm)"/><circle cx="129.9" cy="250.8" r="2.40" fill="url(#gm)"/><circle cx="134.9" cy="251.4" r="2.40" fill="url(#gm)"/><circle cx="140.1" cy="252.0" r="2.40" fill="url(#gm)"/><circle cx="145.3" cy="252.5" r="2.40" fill="url(#gm)"/><circle cx="150.6" cy="252.9" r="2.40" fill="url(#gm)"/><circle cx="155.9" cy="253.2" r="2.40" fill="url(#gm)"/><circle cx="161.4" cy="253.4" r="2.40" fill="url(#gm)"/><circle cx="166.8" cy="253.6" r="2.40" fill="url(#gm)"/><circle cx="172.3" cy="253.7" r="2.40" fill="url(#gm)"/><circle cx="177.7" cy="253.7" r="2.40" fill="url(#gm)"/><circle cx="183.2" cy="253.7" r="2.40" fill="url(#gm)"/><circle cx="188.7" cy="253.7" r="2.40" fill="url(#gm)"/><circle cx="194.1" cy="253.7" r="2.40" fill="url(#gm)"/><circle cx="199.6" cy="253.7" r="2.40" fill="url(#gm)"/><circle cx="204.9" cy="253.6" r="2.40" fill="url(#gm)"/><circle cx="210.2" cy="253.4" r="2.40" fill="url(#gm)"/><circle cx="215.4" cy="253.2" r="2.40" fill="url(#gm)"/><circle cx="220.6" cy="252.7" r="2.40" fill="url(#gm)"/><circle cx="225.6" cy="252.3" r="2.40" fill="url(#gm)"/><circle cx="230.5" cy="251.9" r="2.40" fill="url(#gm)"/><circle cx="235.3" cy="251.5" r="2.40" fill="url(#gm)"/><circle cx="240.0" cy="251.2" r="2.40" fill="url(#gm)"/><circle cx="244.5" cy="250.8" r="2.40" fill="url(#gm)"/><circle cx="248.8" cy="250.2" r="2.40" fill="url(#gm)"/><circle cx="253.0" cy="249.4" r="2.40" fill="url(#gm)"/><circle cx="257.0" cy="248.5" r="2.40" fill="url(#gm)"/><circle cx="260.9" cy="247.6" r="2.40" fill="url(#gm)"/><circle cx="264.5" cy="246.8" r="2.40" fill="url(#gm)"/><circle cx="267.9" cy="246.0" r="2.40" fill="url(#gm)"/><circle cx="271.2" cy="245.0" r="2.40" fill="url(#gm)"/><circle cx="274.2" cy="243.7" r="2.40" fill="url(#gm)"/><circle cx="276.9" cy="241.7" r="2.40" fill="url(#gm)"/><circle cx="279.5" cy="230.5" r="2.40" fill="url(#gm)"/><circle cx="281.8" cy="202.6" r="2.40" fill="url(#gm)"/><circle cx="283.9" cy="186.1" r="2.40" fill="url(#gm)"/><circle cx="285.7" cy="174.3" r="2.40" fill="url(#gm)"/><circle cx="287.3" cy="164.8" r="2.40" fill="url(#gm)"/><circle cx="288.6" cy="158.1" r="2.40" fill="url(#gm)"/><circle cx="289.6" cy="150.2" r="2.40" fill="url(#gm)"/><circle cx="290.4" cy="137.2" r="2.40" fill="url(#gm)"/><circle cx="291.0" cy="113.3" r="2.40" fill="url(#gm)"/><circle cx="291.2" cy="87.4" r="2.40" fill="url(#gm)"/><circle cx="291.2" cy="79.6" r="2.40" fill="url(#gm)"/><circle cx="291.0" cy="74.6" r="2.40" fill="url(#gm)"/><circle cx="290.4" cy="67.6" r="2.40" fill="url(#gm)"/><circle cx="289.6" cy="64.1" r="2.40" fill="url(#gm)"/><circle cx="288.6" cy="61.6" r="2.40" fill="url(#gm)"/><circle cx="287.3" cy="59.6" r="2.40" fill="url(#gm)"/><circle cx="285.7" cy="58.1" r="2.40" fill="url(#gm)"/><circle cx="283.9" cy="56.4" r="2.40" fill="url(#gm)"/><circle cx="281.8" cy="54.9" r="2.40" fill="url(#gm)"/><circle cx="279.5" cy="53.5" r="2.40" fill="url(#gm)"/><circle cx="276.9" cy="51.7" r="2.40" fill="url(#gm)"/><circle cx="274.2" cy="49.4" r="2.40" fill="url(#gm)"/><circle cx="271.2" cy="47.7" r="2.40" fill="url(#gm)"/><circle cx="267.9" cy="46.6" r="2.40" fill="url(#gm)"/><circle cx="264.5" cy="45.6" r="2.40" fill="url(#gm)"/><circle cx="260.9" cy="44.3" r="2.40" fill="url(#gm)"/><circle cx="257.0" cy="43.0" r="2.40" fill="url(#gm)"/><circle cx="253.0" cy="41.9" r="2.40" fill="url(#gm)"/><circle cx="248.8" cy="41.1" r="2.40" fill="url(#gm)"/><circle cx="244.5" cy="40.3" r="2.40" fill="url(#gm)"/><circle cx="240.0" cy="39.6" r="2.40" fill="url(#gm)"/><circle cx="235.3" cy="38.9" r="2.40" fill="url(#gm)"/><circle cx="230.5" cy="38.2" r="2.40" fill="url(#gm)"/><circle cx="225.6" cy="37.7" r="2.40" fill="url(#gm)"/><circle cx="220.6" cy="37.3" r="2.40" fill="url(#gm)"/><circle cx="215.4" cy="36.7" r="2.40" fill="url(#gm)"/><circle cx="210.2" cy="35.9" r="2.40" fill="url(#gm)"/><circle cx="204.9" cy="35.3" r="2.40" fill="url(#gm)"/><circle cx="199.6" cy="34.9" r="2.40" fill="url(#gm)"/><circle cx="194.1" cy="34.6" r="2.40" fill="url(#gm)"/><circle cx="188.7" cy="34.3" r="2.40" fill="url(#gm)"/><circle cx="183.2" cy="34.2" r="2.40" fill="url(#gm)"/>
<circle cx="650.0" cy="131.7" r="2.40" fill="url(#gk)"/><circle cx="650.1" cy="131.6" r="2.40" fill="url(#gk)"/><circle cx="649.9" cy="131.6" r="2.40" fill="url(#gk)"/><circle cx="649.4" cy="131.6" r="2.40" fill="url(#gk)"/><circle cx="648.6" cy="131.7" r="2.40" fill="url(#gk)"/><circle cx="647.6" cy="131.7" r="2.40" fill="url(#gk)"/><circle cx="646.4" cy="131.7" r="2.40" fill="url(#gk)"/><circle cx="644.8" cy="131.7" r="2.40" fill="url(#gk)"/><circle cx="643.1" cy="131.7" r="2.40" fill="url(#gk)"/><circle cx="641.1" cy="131.7" r="2.40" fill="url(#gk)"/><circle cx="638.8" cy="131.7" r="2.40" fill="url(#gk)"/><circle cx="636.3" cy="131.7" r="2.40" fill="url(#gk)"/><circle cx="633.6" cy="131.8" r="2.40" fill="url(#gk)"/><circle cx="630.6" cy="131.8" r="2.40" fill="url(#gk)"/><circle cx="627.4" cy="131.9" r="2.40" fill="url(#gk)"/><circle cx="624.0" cy="131.9" r="2.40" fill="url(#gk)"/><circle cx="620.5" cy="132.0" r="2.40" fill="url(#gk)"/><circle cx="616.7" cy="132.0" r="2.40" fill="url(#gk)"/><circle cx="612.7" cy="132.1" r="2.40" fill="url(#gk)"/><circle cx="608.6" cy="132.2" r="2.40" fill="url(#gk)"/><circle cx="604.2" cy="132.3" r="2.40" fill="url(#gk)"/><circle cx="599.8" cy="132.5" r="2.40" fill="url(#gk)"/><circle cx="595.2" cy="132.6" r="2.40" fill="url(#gk)"/><circle cx="590.4" cy="132.8" r="2.40" fill="url(#gk)"/><circle cx="585.5" cy="133.0" r="2.40" fill="url(#gk)"/><circle cx="580.5" cy="133.2" r="2.40" fill="url(#gk)"/><circle cx="575.4" cy="133.4" r="2.40" fill="url(#gk)"/><circle cx="570.3" cy="133.7" r="2.40" fill="url(#gk)"/><circle cx="565.0" cy="134.1" r="2.40" fill="url(#gk)"/><circle cx="559.7" cy="134.8" r="2.40" fill="url(#gk)"/><circle cx="554.3" cy="137.3" r="2.40" fill="url(#gk)"/><circle cx="548.9" cy="141.1" r="2.40" fill="url(#gk)"/><circle cx="543.4" cy="143.0" r="2.40" fill="url(#gk)"/><circle cx="538.0" cy="144.7" r="2.40" fill="url(#gk)"/><circle cx="532.4" cy="145.6" r="2.40" fill="url(#gk)"/><circle cx="526.8" cy="146.0" r="2.40" fill="url(#gk)"/><circle cx="521.3" cy="146.3" r="2.40" fill="url(#gk)"/><circle cx="515.8" cy="146.4" r="2.40" fill="url(#gk)"/><circle cx="510.3" cy="146.5" r="2.40" fill="url(#gk)"/><circle cx="504.9" cy="146.6" r="2.40" fill="url(#gk)"/><circle cx="499.6" cy="146.6" r="2.40" fill="url(#gk)"/><circle cx="494.4" cy="146.9" r="2.40" fill="url(#gk)"/><circle cx="489.2" cy="147.4" r="2.40" fill="url(#gk)"/><circle cx="484.2" cy="147.9" r="2.40" fill="url(#gk)"/><circle cx="479.3" cy="148.3" r="2.40" fill="url(#gk)"/><circle cx="474.5" cy="148.6" r="2.40" fill="url(#gk)"/><circle cx="469.9" cy="148.9" r="2.40" fill="url(#gk)"/><circle cx="465.4" cy="149.1" r="2.40" fill="url(#gk)"/><circle cx="461.2" cy="149.3" r="2.40" fill="url(#gk)"/><circle cx="457.0" cy="149.4" r="2.40" fill="url(#gk)"/><circle cx="453.1" cy="149.6" r="2.40" fill="url(#gk)"/><circle cx="449.4" cy="149.8" r="2.40" fill="url(#gk)"/><circle cx="445.8" cy="150.0" r="2.40" fill="url(#gk)"/><circle cx="442.5" cy="150.3" r="2.40" fill="url(#gk)"/><circle cx="439.4" cy="150.5" r="2.40" fill="url(#gk)"/><circle cx="436.5" cy="150.8" r="2.40" fill="url(#gk)"/><circle cx="433.9" cy="151.0" r="2.40" fill="url(#gk)"/><circle cx="431.5" cy="151.2" r="2.40" fill="url(#gk)"/><circle cx="429.4" cy="151.4" r="2.40" fill="url(#gk)"/><circle cx="427.5" cy="151.7" r="2.40" fill="url(#gk)"/><circle cx="425.8" cy="151.8" r="2.40" fill="url(#gk)"/><circle cx="424.5" cy="152.0" r="2.40" fill="url(#gk)"/><circle cx="423.3" cy="152.2" r="2.40" fill="url(#gk)"/><circle cx="422.5" cy="152.3" r="2.40" fill="url(#gk)"/><circle cx="421.9" cy="152.3" r="2.40" fill="url(#gk)"/><circle cx="421.6" cy="152.4" r="2.40" fill="url(#gk)"/><circle cx="421.6" cy="152.4" r="2.40" fill="url(#gk)"/><circle cx="421.8" cy="152.4" r="2.40" fill="url(#gk)"/><circle cx="422.3" cy="152.3" r="2.40" fill="url(#gk)"/><circle cx="423.0" cy="152.3" r="2.40" fill="url(#gk)"/><circle cx="424.1" cy="152.2" r="2.40" fill="url(#gk)"/><circle cx="425.4" cy="152.1" r="2.40" fill="url(#gk)"/><circle cx="426.9" cy="152.0" r="2.40" fill="url(#gk)"/><circle cx="428.7" cy="151.9" r="2.40" fill="url(#gk)"/><circle cx="430.8" cy="151.8" r="2.40" fill="url(#gk)"/><circle cx="433.1" cy="151.7" r="2.40" fill="url(#gk)"/><circle cx="435.7" cy="151.6" r="2.40" fill="url(#gk)"/><circle cx="438.5" cy="151.4" r="2.40" fill="url(#gk)"/><circle cx="441.5" cy="151.3" r="2.40" fill="url(#gk)"/><circle cx="444.7" cy="151.2" r="2.40" fill="url(#gk)"/><circle cx="448.2" cy="151.1" r="2.40" fill="url(#gk)"/><circle cx="451.9" cy="151.0" r="2.40" fill="url(#gk)"/><circle cx="455.7" cy="150.9" r="2.40" fill="url(#gk)"/><circle cx="459.8" cy="150.8" r="2.40" fill="url(#gk)"/><circle cx="464.0" cy="150.7" r="2.40" fill="url(#gk)"/><circle cx="468.4" cy="150.6" r="2.40" fill="url(#gk)"/><circle cx="473.0" cy="150.4" r="2.40" fill="url(#gk)"/><circle cx="477.7" cy="150.2" r="2.40" fill="url(#gk)"/><circle cx="482.6" cy="150.0" r="2.40" fill="url(#gk)"/><circle cx="487.6" cy="149.8" r="2.40" fill="url(#gk)"/><circle cx="492.7" cy="149.6" r="2.40" fill="url(#gk)"/><circle cx="497.9" cy="149.5" r="2.40" fill="url(#gk)"/><circle cx="503.2" cy="149.4" r="2.40" fill="url(#gk)"/><circle cx="508.6" cy="149.2" r="2.40" fill="url(#gk)"/><circle cx="514.0" cy="148.8" r="2.40" fill="url(#gk)"/><circle cx="519.5" cy="146.8" r="2.40" fill="url(#gk)"/><circle cx="525.0" cy="143.2" r="2.40" fill="url(#gk)"/><circle cx="530.6" cy="141.3" r="2.40" fill="url(#gk)"/><circle cx="536.2" cy="139.9" r="2.40" fill="url(#gk)"/><circle cx="541.7" cy="139.2" r="2.40" fill="url(#gk)"/><circle cx="547.1" cy="138.7" r="2.40" fill="url(#gk)"/><circle cx="552.6" cy="138.3" r="2.40" fill="url(#gk)"/><circle cx="557.9" cy="137.9" r="2.40" fill="url(#gk)"/><circle cx="563.3" cy="137.7" r="2.40" fill="url(#gk)"/><circle cx="568.6" cy="137.4" r="2.40" fill="url(#gk)"/><circle cx="573.8" cy="137.2" r="2.40" fill="url(#gk)"/><circle cx="578.9" cy="136.9" r="2.40" fill="url(#gk)"/><circle cx="583.9" cy="136.6" r="2.40" fill="url(#gk)"/><circle cx="588.8" cy="136.3" r="2.40" fill="url(#gk)"/><circle cx="593.6" cy="136.0" r="2.40" fill="url(#gk)"/><circle cx="598.3" cy="135.6" r="2.40" fill="url(#gk)"/><circle cx="602.8" cy="135.2" r="2.40" fill="url(#gk)"/><circle cx="607.2" cy="134.8" r="2.40" fill="url(#gk)"/><circle cx="611.4" cy="134.6" r="2.40" fill="url(#gk)"/><circle cx="615.4" cy="134.4" r="2.40" fill="url(#gk)"/><circle cx="619.2" cy="134.2" r="2.40" fill="url(#gk)"/><circle cx="622.9" cy="134.0" r="2.40" fill="url(#gk)"/><circle cx="626.4" cy="133.8" r="2.40" fill="url(#gk)"/><circle cx="629.6" cy="133.6" r="2.40" fill="url(#gk)"/><circle cx="632.6" cy="133.3" r="2.40" fill="url(#gk)"/><circle cx="635.4" cy="133.0" r="2.40" fill="url(#gk)"/><circle cx="638.0" cy="132.9" r="2.40" fill="url(#gk)"/><circle cx="640.3" cy="132.7" r="2.40" fill="url(#gk)"/><circle cx="642.4" cy="132.6" r="2.40" fill="url(#gk)"/><circle cx="644.3" cy="132.5" r="2.40" fill="url(#gk)"/><circle cx="645.9" cy="132.4" r="2.40" fill="url(#gk)"/><circle cx="647.2" cy="132.2" r="2.40" fill="url(#gk)"/><circle cx="648.3" cy="132.0" r="2.40" fill="url(#gk)"/><circle cx="649.2" cy="131.8" r="2.40" fill="url(#gk)"/><circle cx="649.7" cy="131.7" r="2.40" fill="url(#gk)"/>
<circle cx="650.6" cy="107.8" r="2.40" fill="url(#gb)"/><circle cx="650.6" cy="107.8" r="2.40" fill="url(#gb)"/><circle cx="650.4" cy="107.8" r="2.40" fill="url(#gb)"/><circle cx="649.9" cy="107.8" r="2.40" fill="url(#gb)"/><circle cx="649.2" cy="107.8" r="2.40" fill="url(#gb)"/><circle cx="648.2" cy="107.8" r="2.40" fill="url(#gb)"/><circle cx="646.9" cy="107.8" r="2.40" fill="url(#gb)"/><circle cx="645.4" cy="107.9" r="2.40" fill="url(#gb)"/><circle cx="643.6" cy="107.9" r="2.40" fill="url(#gb)"/><circle cx="641.6" cy="108.0" r="2.40" fill="url(#gb)"/><circle cx="639.3" cy="108.1" r="2.40" fill="url(#gb)"/><circle cx="636.8" cy="108.2" r="2.40" fill="url(#gb)"/><circle cx="634.0" cy="108.5" r="2.40" fill="url(#gb)"/><circle cx="631.1" cy="108.7" r="2.40" fill="url(#gb)"/><circle cx="627.9" cy="108.8" r="2.40" fill="url(#gb)"/><circle cx="624.5" cy="109.0" r="2.40" fill="url(#gb)"/><circle cx="620.9" cy="109.2" r="2.40" fill="url(#gb)"/><circle cx="617.1" cy="109.3" r="2.40" fill="url(#gb)"/><circle cx="613.1" cy="109.5" r="2.40" fill="url(#gb)"/><circle cx="608.9" cy="109.7" r="2.40" fill="url(#gb)"/><circle cx="604.6" cy="109.9" r="2.40" fill="url(#gb)"/><circle cx="600.1" cy="110.2" r="2.40" fill="url(#gb)"/><circle cx="595.4" cy="110.4" r="2.40" fill="url(#gb)"/><circle cx="590.7" cy="110.7" r="2.40" fill="url(#gb)"/><circle cx="585.8" cy="111.2" r="2.40" fill="url(#gb)"/><circle cx="580.7" cy="111.7" r="2.40" fill="url(#gb)"/><circle cx="575.6" cy="112.2" r="2.40" fill="url(#gb)"/><circle cx="570.4" cy="114.4" r="2.40" fill="url(#gb)"/><circle cx="565.1" cy="125.8" r="2.40" fill="url(#gb)"/><circle cx="559.8" cy="139.0" r="2.40" fill="url(#gb)"/><circle cx="554.4" cy="147.3" r="2.40" fill="url(#gb)"/><circle cx="548.9" cy="154.0" r="2.40" fill="url(#gb)"/><circle cx="543.5" cy="158.7" r="2.40" fill="url(#gb)"/><circle cx="538.0" cy="160.6" r="2.40" fill="url(#gb)"/><circle cx="532.5" cy="161.8" r="2.40" fill="url(#gb)"/><circle cx="527.0" cy="164.1" r="2.40" fill="url(#gb)"/><circle cx="521.5" cy="166.0" r="2.40" fill="url(#gb)"/><circle cx="516.0" cy="167.2" r="2.40" fill="url(#gb)"/><circle cx="510.6" cy="168.0" r="2.40" fill="url(#gb)"/><circle cx="505.3" cy="168.7" r="2.40" fill="url(#gb)"/><circle cx="500.0" cy="169.4" r="2.40" fill="url(#gb)"/><circle cx="494.8" cy="170.1" r="2.40" fill="url(#gb)"/><circle cx="489.7" cy="170.6" r="2.40" fill="url(#gb)"/><circle cx="484.7" cy="171.2" r="2.40" fill="url(#gb)"/><circle cx="479.9" cy="171.6" r="2.40" fill="url(#gb)"/><circle cx="475.2" cy="172.1" r="2.40" fill="url(#gb)"/><circle cx="470.6" cy="172.6" r="2.40" fill="url(#gb)"/><circle cx="466.2" cy="173.0" r="2.40" fill="url(#gb)"/><circle cx="461.9" cy="173.4" r="2.40" fill="url(#gb)"/><circle cx="457.9" cy="173.7" r="2.40" fill="url(#gb)"/><circle cx="454.0" cy="174.1" r="2.40" fill="url(#gb)"/><circle cx="450.3" cy="174.3" r="2.40" fill="url(#gb)"/><circle cx="446.8" cy="174.6" r="2.40" fill="url(#gb)"/><circle cx="443.5" cy="174.9" r="2.40" fill="url(#gb)"/><circle cx="440.4" cy="175.2" r="2.40" fill="url(#gb)"/><circle cx="437.6" cy="175.4" r="2.40" fill="url(#gb)"/><circle cx="435.0" cy="175.7" r="2.40" fill="url(#gb)"/><circle cx="432.6" cy="175.9" r="2.40" fill="url(#gb)"/><circle cx="430.5" cy="176.2" r="2.40" fill="url(#gb)"/><circle cx="428.6" cy="176.4" r="2.40" fill="url(#gb)"/><circle cx="427.0" cy="176.6" r="2.40" fill="url(#gb)"/><circle cx="425.6" cy="176.9" r="2.40" fill="url(#gb)"/><circle cx="424.5" cy="177.1" r="2.40" fill="url(#gb)"/><circle cx="423.7" cy="177.3" r="2.40" fill="url(#gb)"/><circle cx="423.1" cy="177.4" r="2.40" fill="url(#gb)"/><circle cx="422.8" cy="177.5" r="2.40" fill="url(#gb)"/><circle cx="422.7" cy="177.5" r="2.40" fill="url(#gb)"/><circle cx="423.0" cy="177.5" r="2.40" fill="url(#gb)"/><circle cx="423.5" cy="177.4" r="2.40" fill="url(#gb)"/><circle cx="424.2" cy="177.4" r="2.40" fill="url(#gb)"/><circle cx="425.2" cy="177.4" r="2.40" fill="url(#gb)"/><circle cx="426.5" cy="177.3" r="2.40" fill="url(#gb)"/><circle cx="428.1" cy="177.2" r="2.40" fill="url(#gb)"/><circle cx="429.8" cy="177.1" r="2.40" fill="url(#gb)"/><circle cx="431.9" cy="176.9" r="2.40" fill="url(#gb)"/><circle cx="434.2" cy="176.7" r="2.40" fill="url(#gb)"/><circle cx="436.7" cy="176.6" r="2.40" fill="url(#gb)"/><circle cx="439.5" cy="176.4" r="2.40" fill="url(#gb)"/><circle cx="442.5" cy="176.2" r="2.40" fill="url(#gb)"/><circle cx="445.7" cy="175.9" r="2.40" fill="url(#gb)"/><circle cx="449.1" cy="175.5" r="2.40" fill="url(#gb)"/><circle cx="452.7" cy="175.0" r="2.40" fill="url(#gb)"/><circle cx="456.6" cy="174.6" r="2.40" fill="url(#gb)"/><circle cx="460.6" cy="174.3" r="2.40" fill="url(#gb)"/><circle cx="464.8" cy="174.0" r="2.40" fill="url(#gb)"/><circle cx="469.2" cy="173.6" r="2.40" fill="url(#gb)"/><circle cx="473.7" cy="173.2" r="2.40" fill="url(#gb)"/><circle cx="478.3" cy="172.9" r="2.40" fill="url(#gb)"/><circle cx="483.2" cy="172.6" r="2.40" fill="url(#gb)"/><circle cx="488.1" cy="172.2" r="2.40" fill="url(#gb)"/><circle cx="493.1" cy="171.8" r="2.40" fill="url(#gb)"/><circle cx="498.3" cy="171.2" r="2.40" fill="url(#gb)"/><circle cx="503.5" cy="169.3" r="2.40" fill="url(#gb)"/><circle cx="508.9" cy="165.9" r="2.40" fill="url(#gb)"/><circle cx="514.2" cy="161.2" r="2.40" fill="url(#gb)"/><circle cx="519.7" cy="153.7" r="2.40" fill="url(#gb)"/><circle cx="525.2" cy="142.9" r="2.40" fill="url(#gb)"/><circle cx="530.7" cy="131.9" r="2.40" fill="url(#gb)"/><circle cx="536.2" cy="127.3" r="2.40" fill="url(#gb)"/><circle cx="541.7" cy="125.4" r="2.40" fill="url(#gb)"/><circle cx="547.2" cy="123.1" r="2.40" fill="url(#gb)"/><circle cx="552.6" cy="121.8" r="2.40" fill="url(#gb)"/><circle cx="558.0" cy="120.8" r="2.40" fill="url(#gb)"/><circle cx="563.4" cy="119.7" r="2.40" fill="url(#gb)"/><circle cx="568.7" cy="118.6" r="2.40" fill="url(#gb)"/><circle cx="573.9" cy="117.7" r="2.40" fill="url(#gb)"/><circle cx="579.1" cy="117.0" r="2.40" fill="url(#gb)"/><circle cx="584.1" cy="116.4" r="2.40" fill="url(#gb)"/><circle cx="589.1" cy="115.9" r="2.40" fill="url(#gb)"/><circle cx="593.9" cy="115.3" r="2.40" fill="url(#gb)"/><circle cx="598.6" cy="114.6" r="2.40" fill="url(#gb)"/><circle cx="603.1" cy="113.9" r="2.40" fill="url(#gb)"/><circle cx="607.5" cy="113.3" r="2.40" fill="url(#gb)"/><circle cx="611.7" cy="112.8" r="2.40" fill="url(#gb)"/><circle cx="615.8" cy="112.4" r="2.40" fill="url(#gb)"/><circle cx="619.6" cy="112.0" r="2.40" fill="url(#gb)"/><circle cx="623.3" cy="111.5" r="2.40" fill="url(#gb)"/><circle cx="626.8" cy="111.1" r="2.40" fill="url(#gb)"/><circle cx="630.0" cy="110.7" r="2.40" fill="url(#gb)"/><circle cx="633.1" cy="110.5" r="2.40" fill="url(#gb)"/><circle cx="635.9" cy="110.2" r="2.40" fill="url(#gb)"/><circle cx="638.5" cy="109.9" r="2.40" fill="url(#gb)"/><circle cx="640.8" cy="109.6" r="2.40" fill="url(#gb)"/><circle cx="643.0" cy="109.4" r="2.40" fill="url(#gb)"/><circle cx="644.8" cy="109.1" r="2.40" fill="url(#gb)"/><circle cx="646.4" cy="108.8" r="2.40" fill="url(#gb)"/><circle cx="647.8" cy="108.5" r="2.40" fill="url(#gb)"/><circle cx="648.9" cy="108.2" r="2.40" fill="url(#gb)"/><circle cx="649.7" cy="108.0" r="2.40" fill="url(#gb)"/><circle cx="650.3" cy="107.9" r="2.40" fill="url(#gb)"/>
<circle cx="650.6" cy="71.8" r="2.40" fill="url(#gr)"/><circle cx="650.6" cy="71.8" r="2.40" fill="url(#gr)"/><circle cx="650.4" cy="71.8" r="2.40" fill="url(#gr)"/><circle cx="649.9" cy="71.8" r="2.40" fill="url(#gr)"/><circle cx="649.2" cy="71.9" r="2.40" fill="url(#gr)"/><circle cx="648.2" cy="72.0" r="2.40" fill="url(#gr)"/><circle cx="646.9" cy="72.1" r="2.40" fill="url(#gr)"/><circle cx="645.4" cy="72.2" r="2.40" fill="url(#gr)"/><circle cx="643.6" cy="72.4" r="2.40" fill="url(#gr)"/><circle cx="641.6" cy="72.6" r="2.40" fill="url(#gr)"/><circle cx="639.3" cy="72.8" r="2.40" fill="url(#gr)"/><circle cx="636.8" cy="73.0" r="2.40" fill="url(#gr)"/><circle cx="634.0" cy="73.3" r="2.40" fill="url(#gr)"/><circle cx="631.1" cy="73.6" r="2.40" fill="url(#gr)"/><circle cx="627.9" cy="74.0" r="2.40" fill="url(#gr)"/><circle cx="624.5" cy="74.3" r="2.40" fill="url(#gr)"/><circle cx="620.9" cy="74.6" r="2.40" fill="url(#gr)"/><circle cx="617.1" cy="74.8" r="2.40" fill="url(#gr)"/><circle cx="613.1" cy="75.1" r="2.40" fill="url(#gr)"/><circle cx="608.9" cy="75.5" r="2.40" fill="url(#gr)"/><circle cx="604.6" cy="76.0" r="2.40" fill="url(#gr)"/><circle cx="600.1" cy="76.5" r="2.40" fill="url(#gr)"/><circle cx="595.4" cy="77.1" r="2.40" fill="url(#gr)"/><circle cx="590.7" cy="77.8" r="2.40" fill="url(#gr)"/><circle cx="585.8" cy="79.0" r="2.40" fill="url(#gr)"/><circle cx="580.7" cy="84.3" r="2.40" fill="url(#gr)"/><circle cx="575.6" cy="118.8" r="2.40" fill="url(#gr)"/><circle cx="570.4" cy="135.1" r="2.40" fill="url(#gr)"/><circle cx="565.1" cy="144.5" r="2.40" fill="url(#gr)"/><circle cx="559.8" cy="155.4" r="2.40" fill="url(#gr)"/><circle cx="554.4" cy="163.4" r="2.40" fill="url(#gr)"/><circle cx="548.9" cy="171.5" r="2.40" fill="url(#gr)"/><circle cx="543.5" cy="180.1" r="2.40" fill="url(#gr)"/><circle cx="538.0" cy="183.3" r="2.40" fill="url(#gr)"/><circle cx="532.5" cy="186.6" r="2.40" fill="url(#gr)"/><circle cx="526.9" cy="190.8" r="2.40" fill="url(#gr)"/><circle cx="521.4" cy="193.4" r="2.40" fill="url(#gr)"/><circle cx="515.9" cy="195.3" r="2.40" fill="url(#gr)"/><circle cx="510.5" cy="196.8" r="2.40" fill="url(#gr)"/><circle cx="505.2" cy="198.0" r="2.40" fill="url(#gr)"/><circle cx="499.9" cy="199.2" r="2.40" fill="url(#gr)"/><circle cx="494.7" cy="200.5" r="2.40" fill="url(#gr)"/><circle cx="489.6" cy="201.7" r="2.40" fill="url(#gr)"/><circle cx="484.6" cy="202.7" r="2.40" fill="url(#gr)"/><circle cx="479.7" cy="203.6" r="2.40" fill="url(#gr)"/><circle cx="475.0" cy="204.3" r="2.40" fill="url(#gr)"/><circle cx="470.4" cy="204.9" r="2.40" fill="url(#gr)"/><circle cx="466.0" cy="205.4" r="2.40" fill="url(#gr)"/><circle cx="461.7" cy="206.0" r="2.40" fill="url(#gr)"/><circle cx="457.6" cy="206.5" r="2.40" fill="url(#gr)"/><circle cx="453.7" cy="207.0" r="2.40" fill="url(#gr)"/><circle cx="450.0" cy="207.6" r="2.40" fill="url(#gr)"/><circle cx="446.5" cy="208.1" r="2.40" fill="url(#gr)"/><circle cx="443.2" cy="208.5" r="2.40" fill="url(#gr)"/><circle cx="440.1" cy="208.8" r="2.40" fill="url(#gr)"/><circle cx="437.3" cy="209.3" r="2.40" fill="url(#gr)"/><circle cx="434.6" cy="209.7" r="2.40" fill="url(#gr)"/><circle cx="432.3" cy="210.0" r="2.40" fill="url(#gr)"/><circle cx="430.1" cy="210.4" r="2.40" fill="url(#gr)"/><circle cx="428.3" cy="210.6" r="2.40" fill="url(#gr)"/><circle cx="426.6" cy="210.8" r="2.40" fill="url(#gr)"/><circle cx="425.3" cy="211.0" r="2.40" fill="url(#gr)"/><circle cx="424.2" cy="211.3" r="2.40" fill="url(#gr)"/><circle cx="423.3" cy="211.7" r="2.40" fill="url(#gr)"/><circle cx="422.7" cy="212.0" r="2.40" fill="url(#gr)"/><circle cx="422.4" cy="212.2" r="2.40" fill="url(#gr)"/><circle cx="422.4" cy="212.3" r="2.40" fill="url(#gr)"/><circle cx="422.6" cy="212.2" r="2.40" fill="url(#gr)"/><circle cx="423.1" cy="212.2" r="2.40" fill="url(#gr)"/><circle cx="423.9" cy="212.1" r="2.40" fill="url(#gr)"/><circle cx="424.9" cy="211.9" r="2.40" fill="url(#gr)"/><circle cx="426.2" cy="211.8" r="2.40" fill="url(#gr)"/><circle cx="427.7" cy="211.6" r="2.40" fill="url(#gr)"/><circle cx="429.5" cy="211.3" r="2.40" fill="url(#gr)"/><circle cx="431.6" cy="211.1" r="2.40" fill="url(#gr)"/><circle cx="433.9" cy="210.8" r="2.40" fill="url(#gr)"/><circle cx="436.4" cy="210.6" r="2.40" fill="url(#gr)"/><circle cx="439.2" cy="210.3" r="2.40" fill="url(#gr)"/><circle cx="442.2" cy="209.9" r="2.40" fill="url(#gr)"/><circle cx="445.4" cy="209.4" r="2.40" fill="url(#gr)"/><circle cx="448.8" cy="208.7" r="2.40" fill="url(#gr)"/><circle cx="452.5" cy="208.0" r="2.40" fill="url(#gr)"/><circle cx="456.3" cy="207.3" r="2.40" fill="url(#gr)"/><circle cx="460.3" cy="206.9" r="2.40" fill="url(#gr)"/><circle cx="464.6" cy="206.4" r="2.40" fill="url(#gr)"/><circle cx="468.9" cy="205.8" r="2.40" fill="url(#gr)"/><circle cx="473.5" cy="204.9" r="2.40" fill="url(#gr)"/><circle cx="478.2" cy="204.1" r="2.40" fill="url(#gr)"/><circle cx="483.0" cy="203.4" r="2.40" fill="url(#gr)"/><circle cx="487.9" cy="202.6" r="2.40" fill="url(#gr)"/><circle cx="493.0" cy="196.1" r="2.40" fill="url(#gr)"/><circle cx="498.2" cy="183.7" r="2.40" fill="url(#gr)"/><circle cx="503.4" cy="172.5" r="2.40" fill="url(#gr)"/><circle cx="508.8" cy="162.8" r="2.40" fill="url(#gr)"/><circle cx="514.2" cy="155.4" r="2.40" fill="url(#gr)"/><circle cx="519.6" cy="144.1" r="2.40" fill="url(#gr)"/><circle cx="525.1" cy="127.1" r="2.40" fill="url(#gr)"/><circle cx="530.7" cy="111.1" r="2.40" fill="url(#gr)"/><circle cx="536.2" cy="104.7" r="2.40" fill="url(#gr)"/><circle cx="541.7" cy="101.7" r="2.40" fill="url(#gr)"/><circle cx="547.2" cy="96.7" r="2.40" fill="url(#gr)"/><circle cx="552.6" cy="94.4" r="2.40" fill="url(#gr)"/><circle cx="558.0" cy="92.6" r="2.40" fill="url(#gr)"/><circle cx="563.4" cy="91.3" r="2.40" fill="url(#gr)"/><circle cx="568.7" cy="90.1" r="2.40" fill="url(#gr)"/><circle cx="573.9" cy="88.7" r="2.40" fill="url(#gr)"/><circle cx="579.1" cy="87.6" r="2.40" fill="url(#gr)"/><circle cx="584.1" cy="86.3" r="2.40" fill="url(#gr)"/><circle cx="589.1" cy="85.0" r="2.40" fill="url(#gr)"/><circle cx="593.9" cy="83.5" r="2.40" fill="url(#gr)"/><circle cx="598.6" cy="82.2" r="2.40" fill="url(#gr)"/><circle cx="603.1" cy="81.2" r="2.40" fill="url(#gr)"/><circle cx="607.5" cy="80.4" r="2.40" fill="url(#gr)"/><circle cx="611.7" cy="79.5" r="2.40" fill="url(#gr)"/><circle cx="615.8" cy="78.7" r="2.40" fill="url(#gr)"/><circle cx="619.6" cy="78.0" r="2.40" fill="url(#gr)"/><circle cx="623.3" cy="77.5" r="2.40" fill="url(#gr)"/><circle cx="626.8" cy="77.0" r="2.40" fill="url(#gr)"/><circle cx="630.0" cy="76.5" r="2.40" fill="url(#gr)"/><circle cx="633.1" cy="76.0" r="2.40" fill="url(#gr)"/><circle cx="635.9" cy="75.5" r="2.40" fill="url(#gr)"/><circle cx="638.5" cy="75.1" r="2.40" fill="url(#gr)"/><circle cx="640.8" cy="74.6" r="2.40" fill="url(#gr)"/><circle cx="643.0" cy="74.2" r="2.40" fill="url(#gr)"/><circle cx="644.8" cy="73.6" r="2.40" fill="url(#gr)"/><circle cx="646.4" cy="73.1" r="2.40" fill="url(#gr)"/><circle cx="647.8" cy="72.7" r="2.40" fill="url(#gr)"/><circle cx="648.9" cy="72.3" r="2.40" fill="url(#gr)"/><circle cx="649.7" cy="72.1" r="2.40" fill="url(#gr)"/><circle cx="650.3" cy="71.9" r="2.40" fill="url(#gr)"/>
<circle cx="649.2" cy="47.5" r="2.40" fill="url(#gg)"/><circle cx="649.3" cy="47.5" r="2.40" fill="url(#gg)"/><circle cx="649.1" cy="47.5" r="2.40" fill="url(#gg)"/><circle cx="648.6" cy="47.6" r="2.40" fill="url(#gg)"/><circle cx="647.8" cy="47.7" r="2.40" fill="url(#gg)"/><circle cx="646.8" cy="47.9" r="2.40" fill="url(#gg)"/><circle cx="645.6" cy="48.1" r="2.40" fill="url(#gg)"/><circle cx="644.1" cy="48.3" r="2.40" fill="url(#gg)"/><circle cx="642.3" cy="48.7" r="2.40" fill="url(#gg)"/><circle cx="640.3" cy="49.2" r="2.40" fill="url(#gg)"/><circle cx="638.1" cy="49.6" r="2.40" fill="url(#gg)"/><circle cx="635.6" cy="49.8" r="2.40" fill="url(#gg)"/><circle cx="632.9" cy="50.0" r="2.40" fill="url(#gg)"/><circle cx="629.9" cy="50.3" r="2.40" fill="url(#gg)"/><circle cx="626.8" cy="50.6" r="2.40" fill="url(#gg)"/><circle cx="623.4" cy="51.0" r="2.40" fill="url(#gg)"/><circle cx="619.8" cy="51.5" r="2.40" fill="url(#gg)"/><circle cx="616.1" cy="52.0" r="2.40" fill="url(#gg)"/><circle cx="612.1" cy="52.3" r="2.40" fill="url(#gg)"/><circle cx="608.0" cy="52.8" r="2.40" fill="url(#gg)"/><circle cx="603.7" cy="53.4" r="2.40" fill="url(#gg)"/><circle cx="599.3" cy="54.1" r="2.40" fill="url(#gg)"/><circle cx="594.7" cy="54.9" r="2.40" fill="url(#gg)"/><circle cx="590.0" cy="56.2" r="2.40" fill="url(#gg)"/><circle cx="585.2" cy="62.6" r="2.40" fill="url(#gg)"/><circle cx="580.2" cy="93.9" r="2.40" fill="url(#gg)"/><circle cx="575.2" cy="129.0" r="2.40" fill="url(#gg)"/><circle cx="570.0" cy="143.1" r="2.40" fill="url(#gg)"/><circle cx="564.8" cy="153.8" r="2.40" fill="url(#gg)"/><circle cx="559.5" cy="162.3" r="2.40" fill="url(#gg)"/><circle cx="554.2" cy="172.4" r="2.40" fill="url(#gg)"/><circle cx="548.8" cy="185.5" r="2.40" fill="url(#gg)"/><circle cx="543.4" cy="194.6" r="2.40" fill="url(#gg)"/><circle cx="538.0" cy="198.9" r="2.40" fill="url(#gg)"/><circle cx="532.4" cy="203.4" r="2.40" fill="url(#gg)"/><circle cx="526.7" cy="209.1" r="2.40" fill="url(#gg)"/><circle cx="521.1" cy="212.1" r="2.40" fill="url(#gg)"/><circle cx="515.6" cy="215.1" r="2.40" fill="url(#gg)"/><circle cx="510.0" cy="216.6" r="2.40" fill="url(#gg)"/><circle cx="504.6" cy="218.4" r="2.40" fill="url(#gg)"/><circle cx="499.2" cy="220.0" r="2.40" fill="url(#gg)"/><circle cx="493.9" cy="221.1" r="2.40" fill="url(#gg)"/><circle cx="488.7" cy="222.1" r="2.40" fill="url(#gg)"/><circle cx="483.6" cy="223.5" r="2.40" fill="url(#gg)"/><circle cx="478.7" cy="224.7" r="2.40" fill="url(#gg)"/><circle cx="473.8" cy="225.7" r="2.40" fill="url(#gg)"/><circle cx="469.2" cy="226.7" r="2.40" fill="url(#gg)"/><circle cx="464.7" cy="227.5" r="2.40" fill="url(#gg)"/><circle cx="460.3" cy="228.3" r="2.40" fill="url(#gg)"/><circle cx="456.1" cy="229.0" r="2.40" fill="url(#gg)"/><circle cx="452.2" cy="229.7" r="2.40" fill="url(#gg)"/><circle cx="448.4" cy="230.4" r="2.40" fill="url(#gg)"/><circle cx="444.8" cy="231.0" r="2.40" fill="url(#gg)"/><circle cx="441.5" cy="231.7" r="2.40" fill="url(#gg)"/><circle cx="438.3" cy="232.3" r="2.40" fill="url(#gg)"/><circle cx="435.4" cy="232.8" r="2.40" fill="url(#gg)"/><circle cx="432.8" cy="233.3" r="2.40" fill="url(#gg)"/><circle cx="430.4" cy="233.8" r="2.40" fill="url(#gg)"/><circle cx="428.2" cy="234.2" r="2.40" fill="url(#gg)"/><circle cx="426.3" cy="234.6" r="2.40" fill="url(#gg)"/><circle cx="424.6" cy="234.9" r="2.40" fill="url(#gg)"/><circle cx="423.2" cy="235.3" r="2.40" fill="url(#gg)"/><circle cx="422.1" cy="235.6" r="2.40" fill="url(#gg)"/><circle cx="421.2" cy="236.0" r="2.40" fill="url(#gg)"/><circle cx="420.6" cy="236.3" r="2.40" fill="url(#gg)"/><circle cx="420.3" cy="236.5" r="2.40" fill="url(#gg)"/><circle cx="420.3" cy="236.5" r="2.40" fill="url(#gg)"/><circle cx="420.5" cy="236.5" r="2.40" fill="url(#gg)"/><circle cx="421.0" cy="236.4" r="2.40" fill="url(#gg)"/><circle cx="421.8" cy="236.3" r="2.40" fill="url(#gg)"/><circle cx="422.8" cy="236.1" r="2.40" fill="url(#gg)"/><circle cx="424.1" cy="235.9" r="2.40" fill="url(#gg)"/><circle cx="425.7" cy="235.6" r="2.40" fill="url(#gg)"/><circle cx="427.5" cy="235.3" r="2.40" fill="url(#gg)"/><circle cx="429.6" cy="234.9" r="2.40" fill="url(#gg)"/><circle cx="432.0" cy="234.6" r="2.40" fill="url(#gg)"/><circle cx="434.6" cy="234.2" r="2.40" fill="url(#gg)"/><circle cx="437.4" cy="233.7" r="2.40" fill="url(#gg)"/><circle cx="440.4" cy="233.2" r="2.40" fill="url(#gg)"/><circle cx="443.7" cy="232.6" r="2.40" fill="url(#gg)"/><circle cx="447.2" cy="231.8" r="2.40" fill="url(#gg)"/><circle cx="450.9" cy="231.0" r="2.40" fill="url(#gg)"/><circle cx="454.8" cy="230.2" r="2.40" fill="url(#gg)"/><circle cx="458.9" cy="229.7" r="2.40" fill="url(#gg)"/><circle cx="463.2" cy="229.1" r="2.40" fill="url(#gg)"/><circle cx="467.7" cy="228.4" r="2.40" fill="url(#gg)"/><circle cx="472.3" cy="227.6" r="2.40" fill="url(#gg)"/><circle cx="477.1" cy="226.7" r="2.40" fill="url(#gg)"/><circle cx="482.0" cy="224.2" r="2.40" fill="url(#gg)"/><circle cx="487.0" cy="212.0" r="2.40" fill="url(#gg)"/><circle cx="492.2" cy="194.1" r="2.40" fill="url(#gg)"/><circle cx="497.5" cy="179.8" r="2.40" fill="url(#gg)"/><circle cx="502.8" cy="168.0" r="2.40" fill="url(#gg)"/><circle cx="508.3" cy="160.9" r="2.40" fill="url(#gg)"/><circle cx="513.8" cy="153.2" r="2.40" fill="url(#gg)"/><circle cx="519.3" cy="141.4" r="2.40" fill="url(#gg)"/><circle cx="524.9" cy="121.0" r="2.40" fill="url(#gg)"/><circle cx="530.5" cy="95.5" r="2.40" fill="url(#gg)"/><circle cx="536.2" cy="87.9" r="2.40" fill="url(#gg)"/><circle cx="541.6" cy="84.2" r="2.40" fill="url(#gg)"/><circle cx="547.1" cy="78.2" r="2.40" fill="url(#gg)"/><circle cx="552.4" cy="75.2" r="2.40" fill="url(#gg)"/><circle cx="557.8" cy="72.3" r="2.40" fill="url(#gg)"/><circle cx="563.1" cy="71.0" r="2.40" fill="url(#gg)"/><circle cx="568.3" cy="69.6" r="2.40" fill="url(#gg)"/><circle cx="573.5" cy="67.8" r="2.40" fill="url(#gg)"/><circle cx="578.6" cy="66.4" r="2.40" fill="url(#gg)"/><circle cx="583.6" cy="64.6" r="2.40" fill="url(#gg)"/><circle cx="588.5" cy="63.6" r="2.40" fill="url(#gg)"/><circle cx="593.2" cy="62.2" r="2.40" fill="url(#gg)"/><circle cx="597.8" cy="60.7" r="2.40" fill="url(#gg)"/><circle cx="602.3" cy="59.5" r="2.40" fill="url(#gg)"/><circle cx="606.7" cy="58.4" r="2.40" fill="url(#gg)"/><circle cx="610.8" cy="57.1" r="2.40" fill="url(#gg)"/><circle cx="614.8" cy="55.9" r="2.40" fill="url(#gg)"/><circle cx="618.6" cy="54.9" r="2.40" fill="url(#gg)"/><circle cx="622.3" cy="54.1" r="2.40" fill="url(#gg)"/><circle cx="625.7" cy="53.3" r="2.40" fill="url(#gg)"/><circle cx="628.9" cy="52.5" r="2.40" fill="url(#gg)"/><circle cx="631.9" cy="52.0" r="2.40" fill="url(#gg)"/><circle cx="634.7" cy="51.6" r="2.40" fill="url(#gg)"/><circle cx="637.3" cy="51.2" r="2.40" fill="url(#gg)"/><circle cx="639.6" cy="50.6" r="2.40" fill="url(#gg)"/><circle cx="641.7" cy="50.0" r="2.40" fill="url(#gg)"/><circle cx="643.5" cy="49.6" r="2.40" fill="url(#gg)"/><circle cx="645.1" cy="49.1" r="2.40" fill="url(#gg)"/><circle cx="646.4" cy="48.6" r="2.40" fill="url(#gg)"/><circle cx="647.5" cy="48.2" r="2.40" fill="url(#gg)"/><circle cx="648.4" cy="47.9" r="2.40" fill="url(#gg)"/><circle cx="648.9" cy="47.6" r="2.40" fill="url(#gg)"/>
<circle cx="648.7" cy="34.1" r="2.40" fill="url(#gm)"/><circle cx="648.7" cy="34.1" r="2.40" fill="url(#gm)"/><circle cx="648.5" cy="34.1" r="2.40" fill="url(#gm)"/><circle cx="648.0" cy="34.2" r="2.40" fill="url(#gm)"/><circle cx="647.3" cy="34.3" r="2.40" fill="url(#gm)"/><circle cx="646.3" cy="34.4" r="2.40" fill="url(#gm)"/><circle cx="645.0" cy="34.6" r="2.40" fill="url(#gm)"/><circle cx="643.5" cy="34.9" r="2.40" fill="url(#gm)"/><circle cx="641.8" cy="35.3" r="2.40" fill="url(#gm)"/><circle cx="639.8" cy="35.7" r="2.40" fill="url(#gm)"/><circle cx="637.6" cy="36.2" r="2.40" fill="url(#gm)"/><circle cx="635.1" cy="36.6" r="2.40" fill="url(#gm)"/><circle cx="632.4" cy="37.1" r="2.40" fill="url(#gm)"/><circle cx="629.5" cy="37.5" r="2.40" fill="url(#gm)"/><circle cx="626.3" cy="37.8" r="2.40" fill="url(#gm)"/><circle cx="623.0" cy="38.1" r="2.40" fill="url(#gm)"/><circle cx="619.4" cy="38.6" r="2.40" fill="url(#gm)"/><circle cx="615.7" cy="39.2" r="2.40" fill="url(#gm)"/><circle cx="611.8" cy="39.8" r="2.40" fill="url(#gm)"/><circle cx="607.7" cy="40.4" r="2.40" fill="url(#gm)"/><circle cx="603.4" cy="40.9" r="2.40" fill="url(#gm)"/><circle cx="599.0" cy="41.6" r="2.40" fill="url(#gm)"/><circle cx="594.4" cy="42.9" r="2.40" fill="url(#gm)"/><circle cx="589.8" cy="45.9" r="2.40" fill="url(#gm)"/><circle cx="584.9" cy="64.3" r="2.40" fill="url(#gm)"/><circle cx="580.0" cy="114.2" r="2.40" fill="url(#gm)"/><circle cx="575.0" cy="139.5" r="2.40" fill="url(#gm)"/><circle cx="569.9" cy="149.5" r="2.40" fill="url(#gm)"/><circle cx="564.7" cy="157.7" r="2.40" fill="url(#gm)"/><circle cx="559.4" cy="167.8" r="2.40" fill="url(#gm)"/><circle cx="554.1" cy="178.5" r="2.40" fill="url(#gm)"/><circle cx="548.7" cy="193.4" r="2.40" fill="url(#gm)"/><circle cx="543.4" cy="206.7" r="2.40" fill="url(#gm)"/><circle cx="538.0" cy="211.6" r="2.40" fill="url(#gm)"/><circle cx="532.3" cy="216.4" r="2.40" fill="url(#gm)"/><circle cx="526.7" cy="223.1" r="2.40" fill="url(#gm)"/><circle cx="521.0" cy="226.6" r="2.40" fill="url(#gm)"/><circle cx="515.4" cy="229.1" r="2.40" fill="url(#gm)"/><circle cx="509.9" cy="231.7" r="2.40" fill="url(#gm)"/><circle cx="504.4" cy="233.6" r="2.40" fill="url(#gm)"/><circle cx="499.0" cy="234.9" r="2.40" fill="url(#gm)"/><circle cx="493.7" cy="236.3" r="2.40" fill="url(#gm)"/><circle cx="488.4" cy="237.6" r="2.40" fill="url(#gm)"/><circle cx="483.3" cy="238.9" r="2.40" fill="url(#gm)"/><circle cx="478.3" cy="240.1" r="2.40" fill="url(#gm)"/><circle cx="473.5" cy="241.4" r="2.40" fill="url(#gm)"/><circle cx="468.8" cy="242.6" r="2.40" fill="url(#gm)"/><circle cx="464.3" cy="243.8" r="2.40" fill="url(#gm)"/><circle cx="459.9" cy="244.8" r="2.40" fill="url(#gm)"/><circle cx="455.7" cy="245.7" r="2.40" fill="url(#gm)"/><circle cx="451.7" cy="246.6" r="2.40" fill="url(#gm)"/><circle cx="447.9" cy="247.4" r="2.40" fill="url(#gm)"/><circle cx="444.3" cy="248.2" r="2.40" fill="url(#gm)"/><circle cx="440.9" cy="248.9" r="2.40" fill="url(#gm)"/><circle cx="437.8" cy="249.5" r="2.40" fill="url(#gm)"/><circle cx="434.9" cy="250.2" r="2.40" fill="url(#gm)"/><circle cx="432.2" cy="250.8" r="2.40" fill="url(#gm)"/><circle cx="429.8" cy="251.4" r="2.40" fill="url(#gm)"/><circle cx="427.6" cy="252.0" r="2.40" fill="url(#gm)"/><circle cx="425.7" cy="252.5" r="2.40" fill="url(#gm)"/><circle cx="424.0" cy="252.9" r="2.40" fill="url(#gm)"/><circle cx="422.6" cy="253.2" r="2.40" fill="url(#gm)"/><circle cx="421.5" cy="253.4" r="2.40" fill="url(#gm)"/><circle cx="420.6" cy="253.6" r="2.40" fill="url(#gm)"/><circle cx="420.0" cy="253.7" r="2.40" fill="url(#gm)"/><circle cx="419.7" cy="253.7" r="2.40" fill="url(#gm)"/><circle cx="419.6" cy="253.7" r="2.40" fill="url(#gm)"/><circle cx="419.9" cy="253.7" r="2.40" fill="url(#gm)"/><circle cx="420.4" cy="253.7" r="2.40" fill="url(#gm)"/><circle cx="421.2" cy="253.7" r="2.40" fill="url(#gm)"/><circle cx="422.2" cy="253.6" r="2.40" fill="url(#gm)"/><circle cx="423.5" cy="253.4" r="2.40" fill="url(#gm)"/><circle cx="425.1" cy="253.2" r="2.40" fill="url(#gm)"/><circle cx="426.9" cy="252.7" r="2.40" fill="url(#gm)"/><circle cx="429.0" cy="252.3" r="2.40" fill="url(#gm)"/><circle cx="431.4" cy="251.9" r="2.40" fill="url(#gm)"/><circle cx="434.0" cy="251.5" r="2.40" fill="url(#gm)"/><circle cx="436.8" cy="251.2" r="2.40" fill="url(#gm)"/><circle cx="439.9" cy="250.8" r="2.40" fill="url(#gm)"/><circle cx="443.2" cy="250.2" r="2.40" fill="url(#gm)"/><circle cx="446.7" cy="249.4" r="2.40" fill="url(#gm)"/><circle cx="450.5" cy="248.5" r="2.40" fill="url(#gm)"/><circle cx="454.4" cy="247.6" r="2.40" fill="url(#gm)"/><circle cx="458.5" cy="246.8" r="2.40" fill="url(#gm)"/><circle cx="462.8" cy="246.0" r="2.40" fill="url(#gm)"/><circle cx="467.3" cy="245.0" r="2.40" fill="url(#gm)"/><circle cx="472.0" cy="243.7" r="2.40" fill="url(#gm)"/><circle cx="476.8" cy="241.7" r="2.40" fill="url(#gm)"/><circle cx="481.7" cy="230.5" r="2.40" fill="url(#gm)"/><circle cx="486.8" cy="202.6" r="2.40" fill="url(#gm)"/><circle cx="492.0" cy="186.1" r="2.40" fill="url(#gm)"/><circle cx="497.2" cy="174.3" r="2.40" fill="url(#gm)"/><circle cx="502.6" cy="164.8" r="2.40" fill="url(#gm)"/><circle cx="508.1" cy="158.1" r="2.40" fill="url(#gm)"/><circle cx="513.6" cy="150.2" r="2.40" fill="url(#gm)"/><circle cx="519.2" cy="137.2" r="2.40" fill="url(#gm)"/><circle cx="524.8" cy="113.3" r="2.40" fill="url(#gm)"/><circle cx="530.5" cy="87.4" r="2.40" fill="url(#gm)"/><circle cx="536.2" cy="79.6" r="2.40" fill="url(#gm)"/><circle cx="541.6" cy="74.6" r="2.40" fill="url(#gm)"/><circle cx="547.0" cy="67.6" r="2.40" fill="url(#gm)"/><circle cx="552.4" cy="64.1" r="2.40" fill="url(#gm)"/><circle cx="557.7" cy="61.6" r="2.40" fill="url(#gm)"/><circle cx="563.0" cy="59.6" r="2.40" fill="url(#gm)"/><circle cx="568.2" cy="58.1" r="2.40" fill="url(#gm)"/><circle cx="573.3" cy="56.4" r="2.40" fill="url(#gm)"/><circle cx="578.4" cy="54.9" r="2.40" fill="url(#gm)"/><circle cx="583.3" cy="53.5" r="2.40" fill="url(#gm)"/><circle cx="588.2" cy="51.7" r="2.40" fill="url(#gm)"/><circle cx="592.9" cy="49.4" r="2.40" fill="url(#gm)"/><circle cx="597.5" cy="47.7" r="2.40" fill="url(#gm)"/><circle cx="602.0" cy="46.6" r="2.40" fill="url(#gm)"/><circle cx="606.3" cy="45.6" r="2.40" fill="url(#gm)"/><circle cx="610.5" cy="44.3" r="2.40" fill="url(#gm)"/><circle cx="614.5" cy="43.0" r="2.40" fill="url(#gm)"/><circle cx="618.3" cy="41.9" r="2.40" fill="url(#gm)"/><circle cx="621.9" cy="41.1" r="2.40" fill="url(#gm)"/><circle cx="625.3" cy="40.3" r="2.40" fill="url(#gm)"/><circle cx="628.5" cy="39.6" r="2.40" fill="url(#gm)"/><circle cx="631.5" cy="38.9" r="2.40" fill="url(#gm)"/><circle cx="634.2" cy="38.2" r="2.40" fill="url(#gm)"/><circle cx="636.8" cy="37.7" r="2.40" fill="url(#gm)"/><circle cx="639.1" cy="37.3" r="2.40" fill="url(#gm)"/><circle cx="641.2" cy="36.7" r="2.40" fill="url(#gm)"/><circle cx="643.0" cy="35.9" r="2.40" fill="url(#gm)"/><circle cx="644.6" cy="35.3" r="2.40" fill="url(#gm)"/><circle cx="645.9" cy="34.9" r="2.40" fill="url(#gm)"/><circle cx="647.0" cy="34.6" r="2.40" fill="url(#gm)"/><circle cx="647.8" cy="34.3" r="2.40" fill="url(#gm)"/><circle cx="648.4" cy="34.2" r="2.40" fill="url(#gm)"/>
<rect x="41.00" y="5.75" width="273.50" height="272.80" fill="none" stroke="#333333" stroke-width="1.05"/>
<text x="36.40" y="282.15" text-anchor="end" class="t">-1000</text>
<line x1="41.00" y1="251.27" x2="45.00" y2="251.27" stroke="#333333" stroke-width="1.05"/>
<text x="36.40" y="254.87" text-anchor="end" class="t">-800</text>
<line x1="41.00" y1="223.99" x2="45.00" y2="223.99" stroke="#333333" stroke-width="1.05"/>
<text x="36.40" y="227.59" text-anchor="end" class="t">-600</text>
<line x1="41.00" y1="196.71" x2="45.00" y2="196.71" stroke="#333333" stroke-width="1.05"/>
<text x="36.40" y="200.31" text-anchor="end" class="t">-400</text>
<line x1="41.00" y1="169.43" x2="45.00" y2="169.43" stroke="#333333" stroke-width="1.05"/>
<text x="36.40" y="173.03" text-anchor="end" class="t">-200</text>
<line x1="41.00" y1="142.15" x2="45.00" y2="142.15" stroke="#333333" stroke-width="1.05"/>
<text x="36.40" y="145.75" text-anchor="end" class="t">0</text>
<line x1="41.00" y1="114.87" x2="45.00" y2="114.87" stroke="#333333" stroke-width="1.05"/>
<text x="36.40" y="118.47" text-anchor="end" class="t">200</text>
<line x1="41.00" y1="87.59" x2="45.00" y2="87.59" stroke="#333333" stroke-width="1.05"/>
<text x="36.40" y="91.19" text-anchor="end" class="t">400</text>
<line x1="41.00" y1="60.31" x2="45.00" y2="60.31" stroke="#333333" stroke-width="1.05"/>
<text x="36.40" y="63.91" text-anchor="end" class="t">600</text>
<line x1="41.00" y1="33.03" x2="45.00" y2="33.03" stroke="#333333" stroke-width="1.05"/>
<text x="36.40" y="36.63" text-anchor="end" class="t">800</text>
<text x="36.40" y="9.35" text-anchor="end" class="t">1000</text>
<line x1="68.35" y1="278.55" x2="68.35" y2="274.55" stroke="#333333" stroke-width="1.05"/>
<text x="68.35" y="292.90" text-anchor="middle" class="t">-12</text>
<line x1="104.82" y1="278.55" x2="104.82" y2="274.55" stroke="#333333" stroke-width="1.05"/>
<text x="104.82" y="292.90" text-anchor="middle" class="t">-8</text>
<line x1="141.28" y1="278.55" x2="141.28" y2="274.55" stroke="#333333" stroke-width="1.05"/>
<text x="141.28" y="292.90" text-anchor="middle" class="t">-4</text>
<line x1="177.75" y1="278.55" x2="177.75" y2="274.55" stroke="#333333" stroke-width="1.05"/>
<text x="177.75" y="292.90" text-anchor="middle" class="t">0</text>
<line x1="214.22" y1="278.55" x2="214.22" y2="274.55" stroke="#333333" stroke-width="1.05"/>
<text x="214.22" y="292.90" text-anchor="middle" class="t">4</text>
<line x1="250.68" y1="278.55" x2="250.68" y2="274.55" stroke="#333333" stroke-width="1.05"/>
<text x="250.68" y="292.90" text-anchor="middle" class="t">8</text>
<line x1="287.15" y1="278.55" x2="287.15" y2="274.55" stroke="#333333" stroke-width="1.05"/>
<text x="287.15" y="292.90" text-anchor="middle" class="t">12</text>
<text x="178.10" y="306.00" text-anchor="middle" class="t" letter-spacing="0.20">Displacement (mm)</text>
<text transform="translate(10.40,142.2) rotate(-90)" text-anchor="middle" class="ty">Damping force (N)</text>
<circle cx="65.40" cy="16.6" r="2.5" fill="url(#gk)"/>
<text x="78.70" y="20.9" class="t">0A</text>
<circle cx="107.60" cy="16.6" r="2.5" fill="url(#gb)"/>
<text x="120.90" y="20.9" class="t">0.25A</text>
<circle cx="164.50" cy="16.6" r="2.5" fill="url(#gr)"/>
<text x="177.80" y="20.9" class="t">0.5A</text>
<circle cx="215.80" cy="16.6" r="2.5" fill="url(#gg)"/>
<text x="229.10" y="20.9" class="t">0.75A</text>
<circle cx="272.80" cy="16.6" r="2.5" fill="url(#gm)"/>
<text x="286.10" y="20.9" class="t">1A</text>
<rect x="400.40" y="5.75" width="273.40" height="272.80" fill="none" stroke="#333333" stroke-width="1.05"/>
<text x="395.80" y="282.15" text-anchor="end" class="t">-1000</text>
<line x1="400.40" y1="251.27" x2="405.60" y2="251.27" stroke="#333333" stroke-width="1.05"/>
<text x="395.80" y="254.87" text-anchor="end" class="t">-800</text>
<line x1="400.40" y1="223.99" x2="405.60" y2="223.99" stroke="#333333" stroke-width="1.05"/>
<text x="395.80" y="227.59" text-anchor="end" class="t">-600</text>
<line x1="400.40" y1="196.71" x2="405.60" y2="196.71" stroke="#333333" stroke-width="1.05"/>
<text x="395.80" y="200.31" text-anchor="end" class="t">-400</text>
<line x1="400.40" y1="169.43" x2="405.60" y2="169.43" stroke="#333333" stroke-width="1.05"/>
<text x="395.80" y="173.03" text-anchor="end" class="t">-200</text>
<line x1="400.40" y1="142.15" x2="405.60" y2="142.15" stroke="#333333" stroke-width="1.05"/>
<text x="395.80" y="145.75" text-anchor="end" class="t">0</text>
<line x1="400.40" y1="114.87" x2="405.60" y2="114.87" stroke="#333333" stroke-width="1.05"/>
<text x="395.80" y="118.47" text-anchor="end" class="t">200</text>
<line x1="400.40" y1="87.59" x2="405.60" y2="87.59" stroke="#333333" stroke-width="1.05"/>
<text x="395.80" y="91.19" text-anchor="end" class="t">400</text>
<line x1="400.40" y1="60.31" x2="405.60" y2="60.31" stroke="#333333" stroke-width="1.05"/>
<text x="395.80" y="63.91" text-anchor="end" class="t">600</text>
<line x1="400.40" y1="33.03" x2="405.60" y2="33.03" stroke="#333333" stroke-width="1.05"/>
<text x="395.80" y="36.63" text-anchor="end" class="t">800</text>
<text x="395.80" y="9.35" text-anchor="end" class="t">1000</text>
<text x="400.40" y="292.90" text-anchor="middle" class="t">-0.15</text>
<line x1="445.97" y1="278.55" x2="445.97" y2="273.35" stroke="#333333" stroke-width="1.05"/>
<text x="445.97" y="292.90" text-anchor="middle" class="t">-0.10</text>
<line x1="491.53" y1="278.55" x2="491.53" y2="273.35" stroke="#333333" stroke-width="1.05"/>
<text x="491.53" y="292.90" text-anchor="middle" class="t">-0.05</text>
<line x1="537.10" y1="278.55" x2="537.10" y2="273.35" stroke="#333333" stroke-width="1.05"/>
<text x="537.10" y="292.90" text-anchor="middle" class="t">0.00</text>
<line x1="582.67" y1="278.55" x2="582.67" y2="273.35" stroke="#333333" stroke-width="1.05"/>
<text x="582.67" y="292.90" text-anchor="middle" class="t">0.05</text>
<line x1="628.23" y1="278.55" x2="628.23" y2="273.35" stroke="#333333" stroke-width="1.05"/>
<text x="628.23" y="292.90" text-anchor="middle" class="t">0.10</text>
<text x="673.80" y="292.90" text-anchor="middle" class="t">0.15</text>
<text x="537.70" y="306.00" text-anchor="middle" class="t" letter-spacing="0.32">Velocity (m/s)</text>
<text transform="translate(369.80,142.2) rotate(-90)" text-anchor="middle" class="ty">Damping force (N)</text>
<circle cx="424.80" cy="16.6" r="2.5" fill="url(#gk)"/>
<text x="438.10" y="20.9" class="t">0A</text>
<circle cx="467.00" cy="16.6" r="2.5" fill="url(#gb)"/>
<text x="480.30" y="20.9" class="t">0.25A</text>
<circle cx="523.90" cy="16.6" r="2.5" fill="url(#gr)"/>
<text x="537.20" y="20.9" class="t">0.5A</text>
<circle cx="575.20" cy="16.6" r="2.5" fill="url(#gg)"/>
<text x="588.50" y="20.9" class="t">0.75A</text>
<circle cx="632.20" cy="16.6" r="2.5" fill="url(#gm)"/>
<text x="645.50" y="20.9" class="t">1A</text>
<path d="M163.0 322.7Q155.7 330.5 163.0 338.3M176.9 322.7Q183.8 330.5 176.9 338.3" fill="none" stroke="#000" stroke-width="1.7"/>
<text x="164.9" y="337.2" class="lab">a</text>
<path d="M522.9 323.0Q515.2 330.7 522.9 338.4M536.9 323.0Q543.8 330.7 536.9 338.4" fill="none" stroke="#000" stroke-width="1.7"/>
<text x="524.3" y="337.2" class="lab">b</text>
</svg>
</body></html>
